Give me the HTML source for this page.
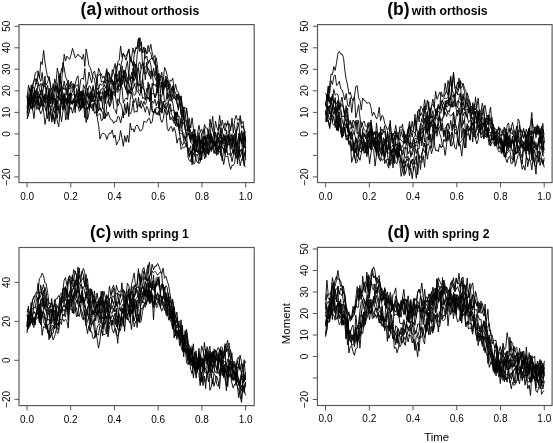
<!DOCTYPE html><html><head><meta charset="utf-8"><style>
html,body{margin:0;padding:0;background:#fff;}
svg{display:block;filter:blur(0.3px);}
text{font-family:"Liberation Sans", sans-serif;}
.tl{font-size:10px;fill:#000;}
.tt{font-size:12.2px;font-weight:bold;fill:#000;}
.tp{font-size:17.5px;font-weight:bold;fill:#000;}
.al{font-size:11.4px;fill:#000;}
</style></head><body><svg width="553" height="443" viewBox="0 0 553 443">
<rect width="553" height="443" fill="#fff"/>
<defs><clipPath id="clipa"><rect x="19.0" y="24.6" width="235.2" height="158.0"/></clipPath><clipPath id="clipb"><rect x="317.5" y="24.6" width="234.6" height="158.0"/></clipPath><clipPath id="clipc"><rect x="19.0" y="247.5" width="235.2" height="158.1"/></clipPath><clipPath id="clipd"><rect x="317.4" y="247.4" width="234.7" height="158.1"/></clipPath></defs>
<g clip-path="url(#clipa)" fill="none" stroke="#000" stroke-width="0.9" stroke-linejoin="round"><path d="M27.1,109.3 28.5,105.3 29.8,93.6 31.2,94.0 32.6,101.0 34.0,101.9 35.3,98.0 36.7,97.1 38.1,91.4 39.5,98.1 40.8,90.1 42.2,89.5 43.6,97.6 45.0,96.0 46.3,99.4 47.7,95.4 49.1,114.8 50.5,110.1 51.8,104.7 53.2,102.7 54.6,98.7 56.0,101.6 57.3,110.3 58.7,97.4 60.1,88.0 61.5,96.1 62.8,98.1 64.2,105.8 65.6,98.1 67.0,100.8 68.3,94.0 69.7,95.7 71.1,95.2 72.5,91.7 73.8,83.7 75.2,101.4 76.6,101.9 78.0,95.3 79.3,94.8 80.7,91.2 82.1,98.4 83.5,100.8 84.8,103.0 86.2,101.0 87.6,102.9 89.0,106.5 90.3,103.0 91.7,92.4 93.1,98.6 94.5,97.4 95.8,96.9 97.2,97.7 98.6,111.2 100.0,107.7 101.3,111.2 102.7,106.5 104.1,91.3 105.5,103.5 106.8,91.1 108.2,95.1 109.6,87.7 111.0,98.7 112.3,80.4 113.7,81.5 115.1,93.0 116.5,74.2 117.8,81.6 119.2,74.7 120.6,86.5 122.0,65.7 123.3,72.3 124.7,78.0 126.1,67.1 127.5,61.3 128.8,76.5 130.2,57.1 131.6,62.7 133.0,64.2 134.3,74.1 135.7,77.1 137.1,54.8 138.5,47.0 139.8,37.6 141.2,43.4 142.6,65.7 144.0,63.6 145.3,48.0 146.7,53.9 148.1,51.6 149.5,49.6 150.8,44.3 152.2,52.6 153.6,57.8 155.0,55.4 156.3,75.1 157.7,89.1 159.1,81.0 160.5,76.7 161.8,72.2 163.2,87.8 164.6,81.6 166.0,87.1 167.3,80.5 168.7,89.7 170.1,80.1 171.5,80.8 172.8,78.2 174.2,91.4 175.6,84.1 177.0,91.4 178.3,92.1 179.7,97.2 181.1,99.9 182.5,109.3 183.8,117.8 185.2,116.2 186.6,124.2 188.0,132.6 189.3,125.4 190.7,142.3 192.1,143.6 193.5,150.3 194.8,129.1 196.2,147.0 197.6,145.1 199.0,132.4 200.3,145.4 201.7,141.7 203.1,140.2 204.5,146.1 205.8,136.2 207.2,135.2 208.6,135.8 210.0,138.9 211.3,123.4 212.7,131.4 214.1,134.1 215.5,131.9 216.8,137.7 218.2,131.3 219.6,124.5 221.0,139.0 222.3,142.4 223.7,141.7 225.1,155.6 226.5,140.0 227.8,143.2 229.2,138.0 230.6,154.2 232.0,161.6 233.3,155.9 234.7,150.5 236.1,141.1 237.5,164.1 238.8,146.5 240.2,157.3 241.6,151.7 243.0,154.2 244.3,166.0 245.7,151.6"/><path d="M27.1,107.1 28.5,97.4 29.8,100.8 31.2,109.0 32.6,102.1 34.0,107.7 35.3,102.2 36.7,99.1 38.1,107.7 39.5,110.2 40.8,99.2 42.2,102.3 43.6,99.9 45.0,94.5 46.3,111.4 47.7,99.3 49.1,96.6 50.5,103.5 51.8,97.4 53.2,109.9 54.6,105.5 56.0,114.5 57.3,100.2 58.7,108.6 60.1,110.5 61.5,98.8 62.8,103.5 64.2,103.2 65.6,107.3 67.0,116.6 68.3,109.5 69.7,102.0 71.1,102.0 72.5,103.3 73.8,99.1 75.2,112.9 76.6,88.5 78.0,93.2 79.3,105.0 80.7,109.2 82.1,107.5 83.5,91.9 84.8,99.6 86.2,96.6 87.6,88.2 89.0,101.8 90.3,107.2 91.7,92.2 93.1,85.4 94.5,93.2 95.8,101.2 97.2,113.4 98.6,90.9 100.0,101.0 101.3,95.9 102.7,107.1 104.1,110.2 105.5,91.5 106.8,96.4 108.2,97.7 109.6,106.4 111.0,97.2 112.3,92.1 113.7,108.4 115.1,109.8 116.5,113.8 117.8,98.8 119.2,101.8 120.6,103.4 122.0,107.4 123.3,118.1 124.7,103.6 126.1,112.9 127.5,102.0 128.8,112.4 130.2,114.0 131.6,111.6 133.0,101.0 134.3,112.4 135.7,111.3 137.1,112.0 138.5,97.4 139.8,107.0 141.2,100.8 142.6,105.5 144.0,101.3 145.3,104.7 146.7,100.7 148.1,82.2 149.5,101.6 150.8,92.7 152.2,93.8 153.6,93.1 155.0,97.1 156.3,92.5 157.7,81.9 159.1,95.8 160.5,96.4 161.8,96.2 163.2,88.8 164.6,102.2 166.0,100.6 167.3,92.8 168.7,105.3 170.1,108.4 171.5,114.3 172.8,116.8 174.2,123.7 175.6,116.3 177.0,112.3 178.3,119.9 179.7,128.7 181.1,131.0 182.5,131.9 183.8,133.4 185.2,141.6 186.6,133.0 188.0,157.1 189.3,160.7 190.7,161.6 192.1,151.7 193.5,163.9 194.8,163.2 196.2,154.8 197.6,154.3 199.0,163.8 200.3,161.9 201.7,154.6 203.1,141.2 204.5,154.7 205.8,149.5 207.2,152.9 208.6,153.6 210.0,150.4 211.3,147.9 212.7,145.4 214.1,150.0 215.5,153.5 216.8,148.3 218.2,152.3 219.6,144.6 221.0,153.1 222.3,155.9 223.7,164.6 225.1,156.0 226.5,156.6 227.8,156.0 229.2,163.8 230.6,169.3 232.0,165.4 233.3,165.5 234.7,163.0 236.1,148.8 237.5,152.8 238.8,155.8 240.2,165.7 241.6,159.4 243.0,156.8 244.3,165.9 245.7,167.3"/><path d="M27.1,107.8 28.5,104.7 29.8,106.3 31.2,101.6 32.6,85.7 34.0,88.7 35.3,95.5 36.7,93.4 38.1,83.2 39.5,85.9 40.8,83.4 42.2,95.4 43.6,86.9 45.0,85.8 46.3,90.4 47.7,85.3 49.1,101.8 50.5,89.4 51.8,90.1 53.2,83.7 54.6,91.8 56.0,85.8 57.3,92.5 58.7,91.1 60.1,78.8 61.5,84.4 62.8,89.2 64.2,80.9 65.6,89.9 67.0,95.3 68.3,80.2 69.7,86.7 71.1,81.3 72.5,85.1 73.8,84.2 75.2,87.5 76.6,85.0 78.0,85.0 79.3,96.7 80.7,93.1 82.1,98.2 83.5,84.7 84.8,88.4 86.2,95.9 87.6,92.1 89.0,86.0 90.3,86.3 91.7,93.0 93.1,87.1 94.5,94.0 95.8,87.7 97.2,74.4 98.6,75.5 100.0,74.4 101.3,73.9 102.7,78.2 104.1,76.0 105.5,79.9 106.8,81.3 108.2,82.2 109.6,80.9 111.0,82.1 112.3,79.5 113.7,86.3 115.1,75.1 116.5,73.5 117.8,76.3 119.2,70.7 120.6,81.1 122.0,74.5 123.3,77.7 124.7,86.9 126.1,89.8 127.5,81.4 128.8,82.8 130.2,90.0 131.6,85.6 133.0,75.7 134.3,85.5 135.7,83.5 137.1,83.6 138.5,86.2 139.8,83.8 141.2,93.0 142.6,77.7 144.0,62.7 145.3,79.7 146.7,62.2 148.1,72.2 149.5,76.3 150.8,70.9 152.2,72.2 153.6,85.7 155.0,84.2 156.3,87.1 157.7,73.8 159.1,85.1 160.5,82.7 161.8,84.4 163.2,94.4 164.6,86.3 166.0,78.4 167.3,98.6 168.7,96.0 170.1,100.7 171.5,101.2 172.8,86.6 174.2,96.8 175.6,99.6 177.0,94.0 178.3,97.8 179.7,103.5 181.1,114.6 182.5,112.7 183.8,120.6 185.2,121.3 186.6,120.3 188.0,130.5 189.3,130.8 190.7,139.3 192.1,132.2 193.5,144.5 194.8,140.6 196.2,140.4 197.6,140.1 199.0,141.5 200.3,154.1 201.7,139.7 203.1,146.9 204.5,159.0 205.8,153.7 207.2,152.0 208.6,155.0 210.0,147.3 211.3,147.9 212.7,147.5 214.1,153.5 215.5,148.7 216.8,141.3 218.2,136.9 219.6,145.3 221.0,155.8 222.3,142.0 223.7,138.3 225.1,141.3 226.5,152.4 227.8,143.7 229.2,144.7 230.6,144.6 232.0,147.8 233.3,143.2 234.7,133.4 236.1,143.7 237.5,160.0 238.8,156.2 240.2,150.4 241.6,148.8 243.0,154.4 244.3,136.1 245.7,151.9"/><path d="M27.1,113.4 28.5,108.8 29.8,97.8 31.2,104.4 32.6,97.5 34.0,103.3 35.3,90.2 36.7,109.5 38.1,107.1 39.5,110.1 40.8,113.9 42.2,110.4 43.6,104.5 45.0,107.5 46.3,111.4 47.7,118.7 49.1,103.8 50.5,109.2 51.8,119.3 53.2,109.5 54.6,113.3 56.0,99.1 57.3,118.2 58.7,107.9 60.1,114.3 61.5,101.7 62.8,109.8 64.2,99.2 65.6,120.1 67.0,116.6 68.3,119.9 69.7,97.6 71.1,104.3 72.5,101.2 73.8,102.9 75.2,100.9 76.6,106.1 78.0,105.9 79.3,111.4 80.7,108.9 82.1,90.5 83.5,104.1 84.8,117.8 86.2,105.4 87.6,119.5 89.0,112.8 90.3,104.3 91.7,104.6 93.1,108.9 94.5,100.2 95.8,107.7 97.2,116.0 98.6,114.6 100.0,113.5 101.3,120.6 102.7,119.8 104.1,109.9 105.5,118.4 106.8,104.2 108.2,100.3 109.6,106.9 111.0,103.4 112.3,94.8 113.7,91.8 115.1,93.6 116.5,103.5 117.8,106.0 119.2,102.9 120.6,86.0 122.0,87.1 123.3,103.2 124.7,99.5 126.1,97.9 127.5,99.6 128.8,89.6 130.2,94.0 131.6,89.7 133.0,88.9 134.3,84.8 135.7,87.2 137.1,91.8 138.5,91.7 139.8,95.5 141.2,89.6 142.6,98.6 144.0,97.6 145.3,99.3 146.7,97.0 148.1,98.1 149.5,98.6 150.8,87.7 152.2,108.8 153.6,114.0 155.0,108.5 156.3,114.5 157.7,112.5 159.1,115.6 160.5,107.7 161.8,113.3 163.2,107.8 164.6,109.2 166.0,113.3 167.3,115.0 168.7,108.7 170.1,120.0 171.5,118.3 172.8,116.6 174.2,118.8 175.6,112.4 177.0,121.9 178.3,125.7 179.7,133.0 181.1,133.5 182.5,134.0 183.8,137.9 185.2,136.4 186.6,143.6 188.0,151.0 189.3,150.1 190.7,153.2 192.1,152.0 193.5,148.2 194.8,152.6 196.2,150.9 197.6,150.5 199.0,152.9 200.3,160.4 201.7,155.0 203.1,144.5 204.5,152.8 205.8,147.8 207.2,140.0 208.6,153.3 210.0,144.6 211.3,151.6 212.7,138.4 214.1,146.4 215.5,144.2 216.8,153.4 218.2,154.1 219.6,151.1 221.0,154.5 222.3,161.0 223.7,148.2 225.1,153.4 226.5,148.3 227.8,155.0 229.2,153.3 230.6,156.3 232.0,153.0 233.3,151.0 234.7,150.4 236.1,158.2 237.5,153.1 238.8,152.1 240.2,151.6 241.6,149.1 243.0,160.9 244.3,152.5 245.7,159.8"/><path d="M27.1,119.0 28.5,114.6 29.8,108.7 31.2,84.8 32.6,98.7 34.0,91.1 35.3,85.7 36.7,78.4 38.1,82.5 39.5,89.4 40.8,95.0 42.2,83.3 43.6,87.2 45.0,76.0 46.3,93.5 47.7,97.7 49.1,88.0 50.5,101.9 51.8,103.6 53.2,101.7 54.6,78.9 56.0,83.6 57.3,83.8 58.7,95.1 60.1,73.1 61.5,93.5 62.8,87.7 64.2,89.7 65.6,86.8 67.0,83.3 68.3,85.0 69.7,108.9 71.1,87.3 72.5,86.2 73.8,90.8 75.2,101.6 76.6,102.8 78.0,95.8 79.3,108.3 80.7,91.1 82.1,96.8 83.5,107.6 84.8,103.2 86.2,105.1 87.6,93.2 89.0,93.1 90.3,100.6 91.7,91.7 93.1,101.9 94.5,99.6 95.8,97.9 97.2,88.1 98.6,90.0 100.0,93.1 101.3,89.0 102.7,88.9 104.1,84.4 105.5,88.3 106.8,82.7 108.2,72.1 109.6,77.2 111.0,81.8 112.3,69.6 113.7,73.2 115.1,76.8 116.5,66.7 117.8,64.6 119.2,63.7 120.6,66.6 122.0,60.7 123.3,53.1 124.7,56.7 126.1,60.4 127.5,53.8 128.8,48.9 130.2,57.1 131.6,59.8 133.0,65.9 134.3,54.6 135.7,47.5 137.1,49.0 138.5,38.4 139.8,51.7 141.2,47.4 142.6,51.7 144.0,47.0 145.3,58.5 146.7,56.0 148.1,63.3 149.5,59.9 150.8,59.3 152.2,57.4 153.6,61.7 155.0,64.8 156.3,57.8 157.7,68.1 159.1,83.4 160.5,78.7 161.8,83.9 163.2,81.6 164.6,67.4 166.0,70.8 167.3,76.4 168.7,82.9 170.1,98.3 171.5,90.5 172.8,87.4 174.2,94.6 175.6,97.1 177.0,97.5 178.3,96.3 179.7,101.0 181.1,95.8 182.5,113.4 183.8,114.6 185.2,128.9 186.6,133.4 188.0,132.9 189.3,136.9 190.7,141.1 192.1,134.9 193.5,143.6 194.8,133.6 196.2,146.7 197.6,132.4 199.0,125.3 200.3,132.5 201.7,129.2 203.1,133.8 204.5,124.5 205.8,128.1 207.2,128.0 208.6,136.5 210.0,119.2 211.3,127.4 212.7,116.3 214.1,134.2 215.5,121.1 216.8,127.1 218.2,130.6 219.6,115.5 221.0,126.3 222.3,120.0 223.7,127.5 225.1,122.8 226.5,125.9 227.8,120.7 229.2,132.7 230.6,127.3 232.0,123.6 233.3,125.2 234.7,126.5 236.1,134.6 237.5,122.6 238.8,124.2 240.2,115.4 241.6,123.9 243.0,121.3 244.3,131.6 245.7,133.3"/><path d="M27.1,115.8 28.5,99.6 29.8,97.0 31.2,89.1 32.6,109.4 34.0,96.8 35.3,94.2 36.7,100.9 38.1,102.7 39.5,108.3 40.8,105.6 42.2,103.0 43.6,110.9 45.0,124.4 46.3,117.4 47.7,101.6 49.1,121.4 50.5,111.4 51.8,122.2 53.2,114.5 54.6,124.0 56.0,114.2 57.3,121.0 58.7,126.8 60.1,111.8 61.5,121.7 62.8,112.2 64.2,104.9 65.6,110.5 67.0,97.4 68.3,116.4 69.7,109.8 71.1,107.4 72.5,113.3 73.8,107.5 75.2,101.1 76.6,105.9 78.0,101.0 79.3,102.4 80.7,110.3 82.1,96.4 83.5,101.9 84.8,109.5 86.2,122.6 87.6,107.3 89.0,106.5 90.3,106.1 91.7,108.3 93.1,111.0 94.5,102.8 95.8,103.5 97.2,107.8 98.6,92.5 100.0,96.1 101.3,100.1 102.7,97.5 104.1,94.4 105.5,100.2 106.8,85.1 108.2,95.0 109.6,99.5 111.0,90.2 112.3,92.2 113.7,91.8 115.1,93.8 116.5,74.3 117.8,92.5 119.2,83.6 120.6,67.0 122.0,84.9 123.3,80.1 124.7,70.0 126.1,82.0 127.5,93.0 128.8,78.7 130.2,76.9 131.6,89.2 133.0,68.1 134.3,80.6 135.7,77.0 137.1,81.5 138.5,86.1 139.8,76.3 141.2,92.9 142.6,77.6 144.0,89.0 145.3,100.4 146.7,88.4 148.1,88.9 149.5,84.2 150.8,100.9 152.2,83.2 153.6,92.4 155.0,98.1 156.3,95.0 157.7,86.1 159.1,109.2 160.5,97.8 161.8,112.5 163.2,102.4 164.6,107.9 166.0,106.8 167.3,112.4 168.7,110.9 170.1,118.0 171.5,118.0 172.8,120.8 174.2,119.8 175.6,111.9 177.0,126.8 178.3,123.5 179.7,135.0 181.1,141.9 182.5,145.3 183.8,142.2 185.2,143.6 186.6,142.8 188.0,148.6 189.3,155.7 190.7,151.2 192.1,162.1 193.5,152.6 194.8,156.4 196.2,141.6 197.6,152.7 199.0,150.3 200.3,150.7 201.7,146.3 203.1,142.4 204.5,150.8 205.8,145.0 207.2,134.7 208.6,139.3 210.0,135.6 211.3,134.6 212.7,141.0 214.1,141.6 215.5,150.0 216.8,148.1 218.2,137.2 219.6,145.8 221.0,148.3 222.3,137.2 223.7,139.8 225.1,135.3 226.5,147.7 227.8,142.4 229.2,138.3 230.6,148.6 232.0,148.6 233.3,153.6 234.7,154.4 236.1,152.0 237.5,149.8 238.8,156.5 240.2,138.8 241.6,140.1 243.0,158.9 244.3,155.8 245.7,147.5"/><path d="M27.1,97.8 28.5,85.2 29.8,91.4 31.2,93.8 32.6,84.7 34.0,80.8 35.3,78.7 36.7,84.2 38.1,72.1 39.5,78.2 40.8,81.4 42.2,72.5 43.6,87.2 45.0,81.7 46.3,84.9 47.7,82.2 49.1,77.0 50.5,84.7 51.8,99.4 53.2,86.3 54.6,90.7 56.0,83.3 57.3,68.1 58.7,73.9 60.1,82.0 61.5,85.9 62.8,62.6 64.2,67.9 65.6,76.9 67.0,79.9 68.3,85.9 69.7,89.1 71.1,84.4 72.5,86.7 73.8,89.7 75.2,84.1 76.6,78.4 78.0,75.8 79.3,91.0 80.7,79.6 82.1,78.0 83.5,79.5 84.8,68.5 86.2,86.9 87.6,83.0 89.0,72.1 90.3,77.7 91.7,83.0 93.1,73.2 94.5,71.0 95.8,77.8 97.2,80.6 98.6,68.3 100.0,71.9 101.3,82.4 102.7,80.9 104.1,83.4 105.5,75.0 106.8,68.6 108.2,79.2 109.6,85.6 111.0,80.7 112.3,75.3 113.7,69.8 115.1,63.5 116.5,74.1 117.8,62.1 119.2,59.9 120.6,46.0 122.0,57.1 123.3,53.2 124.7,56.2 126.1,56.0 127.5,53.4 128.8,49.4 130.2,61.8 131.6,57.7 133.0,47.9 134.3,53.7 135.7,49.4 137.1,46.9 138.5,38.6 139.8,46.5 141.2,41.8 142.6,53.1 144.0,51.0 145.3,51.2 146.7,53.5 148.1,45.4 149.5,51.6 150.8,53.0 152.2,59.3 153.6,58.6 155.0,64.2 156.3,64.7 157.7,92.9 159.1,75.5 160.5,93.4 161.8,83.1 163.2,84.7 164.6,87.2 166.0,78.9 167.3,79.7 168.7,86.3 170.1,88.2 171.5,98.8 172.8,99.5 174.2,96.8 175.6,98.9 177.0,103.8 178.3,108.2 179.7,99.8 181.1,113.5 182.5,123.8 183.8,106.7 185.2,116.5 186.6,107.9 188.0,126.9 189.3,129.6 190.7,138.2 192.1,138.4 193.5,134.1 194.8,151.4 196.2,152.0 197.6,143.9 199.0,139.0 200.3,147.5 201.7,160.0 203.1,143.6 204.5,137.3 205.8,141.0 207.2,139.8 208.6,129.7 210.0,139.2 211.3,138.3 212.7,143.3 214.1,142.8 215.5,143.1 216.8,139.3 218.2,132.4 219.6,136.9 221.0,133.0 222.3,129.6 223.7,126.7 225.1,131.1 226.5,124.2 227.8,124.5 229.2,123.4 230.6,130.7 232.0,118.1 233.3,133.3 234.7,120.1 236.1,115.4 237.5,120.3 238.8,119.3 240.2,118.6 241.6,128.3 243.0,126.0 244.3,130.4 245.7,141.3"/><path d="M27.1,118.6 28.5,114.0 29.8,109.0 31.2,106.1 32.6,107.0 34.0,94.1 35.3,104.8 36.7,103.0 38.1,100.3 39.5,104.1 40.8,106.8 42.2,100.6 43.6,99.4 45.0,102.8 46.3,87.8 47.7,104.8 49.1,101.7 50.5,107.8 51.8,110.3 53.2,114.6 54.6,123.1 56.0,103.5 57.3,107.2 58.7,110.4 60.1,104.0 61.5,96.6 62.8,103.3 64.2,108.2 65.6,100.8 67.0,104.4 68.3,96.6 69.7,93.0 71.1,101.6 72.5,104.5 73.8,98.6 75.2,98.5 76.6,93.2 78.0,102.5 79.3,104.6 80.7,107.3 82.1,97.5 83.5,103.5 84.8,98.7 86.2,85.0 87.6,93.1 89.0,98.6 90.3,96.5 91.7,94.2 93.1,100.6 94.5,94.1 95.8,93.6 97.2,80.5 98.6,89.5 100.0,83.8 101.3,85.2 102.7,84.7 104.1,80.8 105.5,83.4 106.8,70.8 108.2,94.4 109.6,73.5 111.0,83.4 112.3,82.8 113.7,88.8 115.1,75.2 116.5,79.0 117.8,82.1 119.2,78.6 120.6,86.2 122.0,73.2 123.3,70.6 124.7,84.5 126.1,89.3 127.5,95.1 128.8,89.8 130.2,93.2 131.6,86.3 133.0,93.1 134.3,95.5 135.7,94.2 137.1,80.5 138.5,90.7 139.8,90.6 141.2,90.9 142.6,86.7 144.0,89.8 145.3,94.4 146.7,95.8 148.1,99.3 149.5,96.7 150.8,104.8 152.2,101.1 153.6,103.3 155.0,99.3 156.3,105.9 157.7,101.3 159.1,107.2 160.5,93.9 161.8,104.0 163.2,106.9 164.6,105.8 166.0,109.6 167.3,104.2 168.7,109.5 170.1,103.7 171.5,111.5 172.8,109.8 174.2,111.1 175.6,126.1 177.0,119.5 178.3,119.6 179.7,127.5 181.1,118.2 182.5,133.2 183.8,141.5 185.2,143.5 186.6,147.1 188.0,147.6 189.3,149.7 190.7,145.8 192.1,164.8 193.5,140.6 194.8,152.3 196.2,160.0 197.6,162.7 199.0,160.6 200.3,156.6 201.7,151.2 203.1,152.9 204.5,146.9 205.8,157.4 207.2,148.3 208.6,146.6 210.0,145.6 211.3,137.8 212.7,149.4 214.1,144.5 215.5,141.3 216.8,155.4 218.2,145.6 219.6,149.5 221.0,140.2 222.3,147.1 223.7,150.2 225.1,143.9 226.5,136.0 227.8,135.8 229.2,140.4 230.6,138.5 232.0,147.4 233.3,135.4 234.7,145.6 236.1,133.8 237.5,128.8 238.8,123.9 240.2,138.5 241.6,131.2 243.0,147.2 244.3,133.2 245.7,142.5"/><path d="M27.1,95.3 28.5,100.4 29.8,101.8 31.2,97.5 32.6,87.6 34.0,80.7 35.3,72.9 36.7,71.9 38.1,70.8 39.5,78.1 40.8,61.7 42.2,64.5 43.6,50.4 45.0,62.6 46.3,70.6 47.7,77.7 49.1,76.4 50.5,87.5 51.8,89.3 53.2,94.5 54.6,99.6 56.0,97.8 57.3,88.9 58.7,97.8 60.1,88.5 61.5,85.4 62.8,100.6 64.2,93.0 65.6,101.8 67.0,102.6 68.3,99.9 69.7,98.6 71.1,101.6 72.5,101.7 73.8,99.9 75.2,98.7 76.6,92.7 78.0,93.5 79.3,99.4 80.7,99.2 82.1,104.9 83.5,90.4 84.8,98.4 86.2,99.5 87.6,100.9 89.0,109.6 90.3,94.3 91.7,94.5 93.1,94.0 94.5,94.9 95.8,99.3 97.2,92.2 98.6,95.5 100.0,99.3 101.3,101.4 102.7,91.0 104.1,88.3 105.5,97.4 106.8,87.5 108.2,96.4 109.6,85.3 111.0,94.5 112.3,95.4 113.7,94.1 115.1,96.3 116.5,88.6 117.8,85.5 119.2,90.3 120.6,89.2 122.0,84.3 123.3,75.5 124.7,76.7 126.1,81.9 127.5,77.5 128.8,76.6 130.2,80.7 131.6,72.3 133.0,79.5 134.3,75.3 135.7,63.9 137.1,80.5 138.5,67.6 139.8,77.8 141.2,67.4 142.6,62.7 144.0,74.2 145.3,72.3 146.7,73.3 148.1,67.8 149.5,71.1 150.8,79.2 152.2,71.3 153.6,75.2 155.0,77.6 156.3,80.7 157.7,79.6 159.1,86.8 160.5,87.1 161.8,82.0 163.2,90.0 164.6,81.7 166.0,87.8 167.3,88.0 168.7,96.3 170.1,94.3 171.5,98.9 172.8,94.6 174.2,98.2 175.6,98.9 177.0,101.3 178.3,110.3 179.7,99.5 181.1,96.4 182.5,107.3 183.8,116.4 185.2,127.0 186.6,130.9 188.0,128.7 189.3,118.4 190.7,128.0 192.1,117.8 193.5,129.0 194.8,133.5 196.2,137.3 197.6,135.8 199.0,135.8 200.3,142.0 201.7,139.8 203.1,137.3 204.5,136.1 205.8,138.4 207.2,146.5 208.6,144.4 210.0,139.3 211.3,139.6 212.7,138.3 214.1,145.7 215.5,143.6 216.8,139.6 218.2,140.9 219.6,135.7 221.0,127.3 222.3,130.1 223.7,141.0 225.1,139.1 226.5,142.8 227.8,145.7 229.2,136.0 230.6,142.0 232.0,138.6 233.3,140.4 234.7,150.8 236.1,133.8 237.5,144.9 238.8,144.2 240.2,135.3 241.6,139.2 243.0,141.6 244.3,147.9 245.7,142.7"/><path d="M27.1,96.6 28.5,105.8 29.8,99.9 31.2,95.8 32.6,104.2 34.0,95.1 35.3,91.0 36.7,92.7 38.1,97.8 39.5,94.0 40.8,101.2 42.2,97.8 43.6,96.1 45.0,102.3 46.3,100.7 47.7,105.5 49.1,92.0 50.5,100.0 51.8,100.1 53.2,97.7 54.6,97.1 56.0,84.9 57.3,91.9 58.7,75.1 60.1,78.0 61.5,68.4 62.8,72.3 64.2,54.3 65.6,60.8 67.0,56.1 68.3,58.0 69.7,59.4 71.1,54.4 72.5,48.4 73.8,52.4 75.2,58.0 76.6,56.4 78.0,54.1 79.3,56.1 80.7,56.6 82.1,59.3 83.5,54.1 84.8,66.3 86.2,48.9 87.6,57.1 89.0,65.6 90.3,67.5 91.7,73.3 93.1,77.7 94.5,78.5 95.8,89.4 97.2,93.5 98.6,91.4 100.0,94.3 101.3,92.8 102.7,94.1 104.1,92.2 105.5,91.0 106.8,96.2 108.2,90.0 109.6,96.3 111.0,92.5 112.3,99.3 113.7,82.3 115.1,84.5 116.5,80.0 117.8,82.6 119.2,86.7 120.6,83.0 122.0,77.8 123.3,76.0 124.7,72.3 126.1,72.5 127.5,83.3 128.8,74.5 130.2,76.6 131.6,78.5 133.0,72.0 134.3,61.7 135.7,77.3 137.1,72.0 138.5,64.1 139.8,61.9 141.2,68.6 142.6,67.9 144.0,68.2 145.3,66.9 146.7,65.3 148.1,63.7 149.5,59.9 150.8,64.7 152.2,75.1 153.6,68.1 155.0,76.2 156.3,65.8 157.7,77.1 159.1,73.5 160.5,77.9 161.8,76.1 163.2,84.3 164.6,81.2 166.0,76.0 167.3,86.9 168.7,85.7 170.1,84.0 171.5,89.9 172.8,85.6 174.2,93.1 175.6,92.1 177.0,100.6 178.3,94.1 179.7,98.6 181.1,109.2 182.5,117.1 183.8,107.8 185.2,107.6 186.6,109.5 188.0,118.6 189.3,126.9 190.7,132.2 192.1,132.8 193.5,130.2 194.8,140.4 196.2,138.5 197.6,136.5 199.0,137.1 200.3,143.9 201.7,140.6 203.1,140.5 204.5,144.9 205.8,137.5 207.2,138.3 208.6,137.6 210.0,143.4 211.3,133.5 212.7,140.3 214.1,132.0 215.5,148.0 216.8,140.2 218.2,137.2 219.6,138.3 221.0,136.9 222.3,141.2 223.7,142.6 225.1,143.7 226.5,130.2 227.8,140.1 229.2,130.9 230.6,136.5 232.0,141.2 233.3,137.7 234.7,140.4 236.1,140.7 237.5,143.8 238.8,136.3 240.2,140.9 241.6,130.5 243.0,136.5 244.3,131.9 245.7,131.5"/><path d="M27.1,111.9 28.5,100.8 29.8,104.3 31.2,105.9 32.6,108.8 34.0,118.6 35.3,104.6 36.7,98.4 38.1,95.6 39.5,106.0 40.8,106.6 42.2,93.6 43.6,106.3 45.0,93.9 46.3,99.4 47.7,99.8 49.1,92.2 50.5,104.0 51.8,101.4 53.2,95.2 54.6,102.3 56.0,106.8 57.3,97.2 58.7,96.0 60.1,101.0 61.5,92.5 62.8,104.3 64.2,94.5 65.6,100.8 67.0,103.2 68.3,102.4 69.7,101.0 71.1,93.1 72.5,103.5 73.8,99.2 75.2,109.2 76.6,100.0 78.0,99.8 79.3,90.8 80.7,100.3 82.1,108.3 83.5,102.0 84.8,109.1 86.2,108.2 87.6,107.7 89.0,105.1 90.3,105.7 91.7,107.8 93.1,103.4 94.5,113.5 95.8,111.6 97.2,116.9 98.6,125.3 100.0,139.0 101.3,135.0 102.7,133.3 104.1,133.5 105.5,134.7 106.8,139.6 108.2,135.4 109.6,133.1 111.0,133.4 112.3,129.9 113.7,138.0 115.1,134.9 116.5,145.1 117.8,141.9 119.2,140.0 120.6,130.5 122.0,138.3 123.3,146.3 124.7,135.7 126.1,142.1 127.5,135.2 128.8,142.4 130.2,123.1 131.6,130.2 133.0,128.7 134.3,132.2 135.7,126.2 137.1,125.0 138.5,127.1 139.8,130.8 141.2,130.7 142.6,128.5 144.0,120.9 145.3,122.2 146.7,121.9 148.1,119.0 149.5,118.2 150.8,123.5 152.2,121.8 153.6,112.0 155.0,111.1 156.3,113.0 157.7,114.7 159.1,110.1 160.5,111.2 161.8,112.7 163.2,101.0 164.6,107.3 166.0,102.7 167.3,103.6 168.7,101.2 170.1,99.5 171.5,98.8 172.8,103.4 174.2,111.5 175.6,121.0 177.0,111.6 178.3,116.5 179.7,116.5 181.1,128.6 182.5,125.0 183.8,122.1 185.2,129.9 186.6,137.3 188.0,133.5 189.3,134.1 190.7,142.2 192.1,133.5 193.5,134.0 194.8,143.5 196.2,140.6 197.6,138.7 199.0,137.5 200.3,144.8 201.7,132.9 203.1,143.6 204.5,128.4 205.8,144.4 207.2,151.9 208.6,140.3 210.0,136.7 211.3,141.4 212.7,144.5 214.1,142.4 215.5,133.4 216.8,145.3 218.2,151.9 219.6,139.9 221.0,129.7 222.3,144.1 223.7,134.0 225.1,138.4 226.5,139.5 227.8,135.7 229.2,134.3 230.6,144.6 232.0,142.4 233.3,135.0 234.7,140.6 236.1,141.3 237.5,148.2 238.8,133.0 240.2,137.8 241.6,143.5 243.0,135.0 244.3,131.5 245.7,141.2"/><path d="M27.1,100.8 28.5,95.6 29.8,87.9 31.2,98.6 32.6,103.3 34.0,99.0 35.3,97.9 36.7,88.6 38.1,105.5 39.5,94.6 40.8,99.0 42.2,105.5 43.6,97.6 45.0,95.3 46.3,97.5 47.7,96.4 49.1,101.5 50.5,95.6 51.8,92.7 53.2,102.4 54.6,104.9 56.0,99.2 57.3,95.6 58.7,99.8 60.1,97.1 61.5,92.7 62.8,92.1 64.2,100.8 65.6,95.3 67.0,87.4 68.3,103.3 69.7,93.5 71.1,94.0 72.5,95.2 73.8,94.1 75.2,96.7 76.6,94.0 78.0,93.6 79.3,101.8 80.7,92.6 82.1,102.5 83.5,98.3 84.8,106.0 86.2,95.6 87.6,94.8 89.0,98.4 90.3,91.5 91.7,102.3 93.1,98.9 94.5,92.0 95.8,100.6 97.2,101.2 98.6,100.1 100.0,108.4 101.3,110.0 102.7,112.7 104.1,119.0 105.5,113.5 106.8,116.2 108.2,111.9 109.6,117.2 111.0,119.8 112.3,120.1 113.7,123.4 115.1,121.2 116.5,121.5 117.8,116.4 119.2,117.0 120.6,122.9 122.0,116.7 123.3,111.8 124.7,114.9 126.1,113.4 127.5,104.8 128.8,116.6 130.2,100.3 131.6,91.9 133.0,99.1 134.3,102.6 135.7,98.2 137.1,107.7 138.5,104.8 139.8,104.8 141.2,108.4 142.6,104.7 144.0,107.2 145.3,112.3 146.7,106.2 148.1,109.1 149.5,115.2 150.8,103.8 152.2,111.9 153.6,111.6 155.0,113.0 156.3,107.5 157.7,107.4 159.1,107.0 160.5,118.9 161.8,122.4 163.2,119.2 164.6,109.6 166.0,112.7 167.3,128.8 168.7,131.0 170.1,127.3 171.5,126.5 172.8,131.6 174.2,127.4 175.6,132.0 177.0,143.2 178.3,138.6 179.7,138.4 181.1,149.3 182.5,147.0 183.8,148.0 185.2,146.2 186.6,145.5 188.0,149.5 189.3,157.2 190.7,150.9 192.1,151.1 193.5,144.1 194.8,150.4 196.2,151.9 197.6,138.1 199.0,155.0 200.3,145.2 201.7,148.8 203.1,141.8 204.5,136.1 205.8,143.8 207.2,147.2 208.6,150.8 210.0,139.0 211.3,136.6 212.7,141.7 214.1,142.5 215.5,146.4 216.8,143.0 218.2,141.0 219.6,143.9 221.0,140.1 222.3,142.4 223.7,143.3 225.1,137.2 226.5,142.0 227.8,137.6 229.2,138.4 230.6,140.3 232.0,133.8 233.3,153.1 234.7,145.4 236.1,147.3 237.5,149.8 238.8,145.0 240.2,137.3 241.6,140.2 243.0,133.9 244.3,144.3 245.7,147.8"/></g>
<rect x="19.0" y="24.6" width="235.2" height="158.0" fill="none" stroke="#555" stroke-width="1.15"/>
<path d="M27.1,182.6V187.4M70.8,182.6V187.4M114.5,182.6V187.4M158.3,182.6V187.4M202.0,182.6V187.4M245.7,182.6V187.4M19.0,26.3H14.4M19.0,47.8H14.4M19.0,69.3H14.4M19.0,90.8H14.4M19.0,112.4H14.4M19.0,133.9H14.4M19.0,155.4H14.4M19.0,176.9H14.4" stroke="#555" stroke-width="1" fill="none"/>
<text x="27.1" y="199.5" text-anchor="middle" class="tl">0.0</text>
<text x="70.8" y="199.5" text-anchor="middle" class="tl">0.2</text>
<text x="114.5" y="199.5" text-anchor="middle" class="tl">0.4</text>
<text x="158.3" y="199.5" text-anchor="middle" class="tl">0.6</text>
<text x="202.0" y="199.5" text-anchor="middle" class="tl">0.8</text>
<text x="245.7" y="199.5" text-anchor="middle" class="tl">1.0</text>
<text transform="translate(9.6,26.3) rotate(-90)" text-anchor="middle" class="tl">50</text>
<text transform="translate(9.6,47.8) rotate(-90)" text-anchor="middle" class="tl">40</text>
<text transform="translate(9.6,69.3) rotate(-90)" text-anchor="middle" class="tl">30</text>
<text transform="translate(9.6,90.8) rotate(-90)" text-anchor="middle" class="tl">20</text>
<text transform="translate(9.6,112.4) rotate(-90)" text-anchor="middle" class="tl">10</text>
<text transform="translate(9.6,133.9) rotate(-90)" text-anchor="middle" class="tl">0</text>
<text transform="translate(9.6,176.9) rotate(-90)" text-anchor="middle" class="tl">&#8722;20</text>
<g clip-path="url(#clipb)" fill="none" stroke="#000" stroke-width="0.9" stroke-linejoin="round"><path d="M325.6,122.2 327.0,117.2 328.3,118.2 329.7,119.8 331.1,110.9 332.5,121.8 333.8,116.4 335.2,127.6 336.6,116.6 338.0,130.9 339.3,126.0 340.7,118.1 342.1,135.9 343.5,126.2 344.8,131.3 346.2,136.2 347.6,139.8 349.0,130.8 350.3,135.8 351.7,132.6 353.1,142.5 354.5,153.8 355.8,138.4 357.2,143.3 358.6,135.0 360.0,134.6 361.3,138.9 362.7,140.3 364.1,143.2 365.5,153.1 366.8,137.1 368.2,131.1 369.6,140.7 371.0,132.4 372.3,131.4 373.7,146.8 375.1,140.6 376.5,151.2 377.8,135.9 379.2,132.6 380.6,143.2 382.0,150.5 383.3,144.5 384.7,158.7 386.1,142.5 387.5,153.9 388.8,153.1 390.2,151.6 391.6,160.9 393.0,154.6 394.3,163.7 395.7,149.4 397.1,147.7 398.5,155.7 399.8,144.2 401.2,148.5 402.6,166.0 404.0,159.7 405.3,166.2 406.7,165.1 408.1,166.4 409.5,167.8 410.8,163.0 412.2,162.7 413.6,170.4 415.0,160.7 416.3,155.9 417.7,174.6 419.1,160.3 420.5,161.3 421.8,162.9 423.2,155.6 424.6,167.3 426.0,145.0 427.3,159.2 428.7,151.4 430.1,145.5 431.5,153.7 432.8,148.8 434.2,142.5 435.6,150.8 437.0,149.9 438.3,151.7 439.7,144.2 441.1,147.9 442.5,145.5 443.8,146.5 445.2,155.4 446.6,144.4 448.0,129.1 449.3,137.7 450.7,135.3 452.1,131.8 453.5,124.3 454.8,133.0 456.2,134.0 457.6,133.1 459.0,146.3 460.3,113.2 461.7,127.6 463.1,122.5 464.5,119.7 465.8,135.6 467.2,125.8 468.6,132.3 470.0,139.3 471.3,126.8 472.7,130.2 474.1,119.5 475.5,123.1 476.8,120.8 478.2,125.4 479.6,129.4 481.0,131.3 482.3,124.1 483.7,125.7 485.1,127.4 486.5,130.2 487.8,128.7 489.2,131.1 490.6,125.6 492.0,129.9 493.3,132.2 494.7,134.6 496.1,135.9 497.5,133.7 498.8,144.6 500.2,138.8 501.6,154.0 503.0,140.4 504.3,139.9 505.7,132.7 507.1,145.9 508.5,136.6 509.8,140.6 511.2,146.2 512.6,138.5 514.0,142.3 515.3,154.5 516.7,142.1 518.1,131.4 519.5,139.8 520.8,145.7 522.2,146.1 523.6,146.2 525.0,142.0 526.3,154.3 527.7,142.1 529.1,154.8 530.5,136.2 531.8,158.6 533.2,155.8 534.6,149.6 536.0,157.3 537.3,155.5 538.7,151.0 540.1,165.5 541.5,159.2 542.8,160.3 544.2,167.5"/><path d="M325.6,111.5 327.0,115.3 328.3,117.4 329.7,105.2 331.1,107.3 332.5,117.1 333.8,115.3 335.2,106.5 336.6,118.8 338.0,131.1 339.3,111.9 340.7,123.7 342.1,132.5 343.5,136.1 344.8,127.0 346.2,136.8 347.6,135.0 349.0,141.6 350.3,141.4 351.7,162.4 353.1,157.0 354.5,151.4 355.8,148.2 357.2,156.9 358.6,149.9 360.0,147.8 361.3,148.1 362.7,151.2 364.1,146.9 365.5,142.7 366.8,156.8 368.2,150.0 369.6,163.7 371.0,152.7 372.3,147.4 373.7,142.1 375.1,149.7 376.5,152.0 377.8,148.1 379.2,158.6 380.6,161.3 382.0,150.3 383.3,143.8 384.7,159.8 386.1,160.6 387.5,164.8 388.8,168.2 390.2,145.8 391.6,153.4 393.0,148.1 394.3,158.7 395.7,151.3 397.1,150.3 398.5,158.5 399.8,163.0 401.2,176.3 402.6,168.7 404.0,175.5 405.3,161.1 406.7,161.6 408.1,158.5 409.5,158.3 410.8,163.0 412.2,159.4 413.6,159.6 415.0,163.1 416.3,164.4 417.7,148.8 419.1,158.0 420.5,157.8 421.8,154.1 423.2,147.2 424.6,143.0 426.0,155.4 427.3,144.0 428.7,145.1 430.1,133.9 431.5,142.7 432.8,126.7 434.2,135.3 435.6,131.3 437.0,132.3 438.3,118.3 439.7,118.3 441.1,127.8 442.5,127.9 443.8,137.0 445.2,127.8 446.6,126.8 448.0,123.0 449.3,129.3 450.7,120.3 452.1,130.5 453.5,112.4 454.8,122.9 456.2,125.7 457.6,133.8 459.0,122.7 460.3,115.4 461.7,138.4 463.1,127.8 464.5,137.7 465.8,134.8 467.2,123.6 468.6,131.4 470.0,127.5 471.3,127.2 472.7,133.9 474.1,136.9 475.5,135.4 476.8,124.5 478.2,125.8 479.6,124.1 481.0,134.8 482.3,131.8 483.7,137.7 485.1,135.8 486.5,137.7 487.8,130.1 489.2,138.1 490.6,142.9 492.0,138.2 493.3,138.9 494.7,131.3 496.1,144.4 497.5,148.7 498.8,151.6 500.2,151.9 501.6,151.7 503.0,142.2 504.3,148.8 505.7,141.8 507.1,135.9 508.5,137.9 509.8,146.4 511.2,141.4 512.6,136.1 514.0,150.0 515.3,137.6 516.7,139.3 518.1,148.2 519.5,148.0 520.8,153.4 522.2,157.9 523.6,143.8 525.0,150.8 526.3,140.0 527.7,132.6 529.1,146.8 530.5,137.4 531.8,160.3 533.2,146.4 534.6,164.1 536.0,156.3 537.3,155.4 538.7,162.3 540.1,146.2 541.5,146.4 542.8,150.9 544.2,152.5"/><path d="M325.6,102.6 327.0,108.3 328.3,106.9 329.7,114.0 331.1,98.9 332.5,110.3 333.8,103.5 335.2,97.5 336.6,112.4 338.0,100.1 339.3,104.4 340.7,108.7 342.1,116.5 343.5,116.7 344.8,114.1 346.2,110.6 347.6,114.1 349.0,133.0 350.3,127.9 351.7,127.3 353.1,120.0 354.5,123.0 355.8,120.5 357.2,133.9 358.6,132.0 360.0,132.9 361.3,138.7 362.7,134.0 364.1,134.5 365.5,136.2 366.8,129.9 368.2,126.9 369.6,125.0 371.0,122.7 372.3,133.1 373.7,132.5 375.1,134.7 376.5,131.4 377.8,153.3 379.2,152.2 380.6,126.8 382.0,147.4 383.3,137.7 384.7,145.0 386.1,149.1 387.5,131.1 388.8,147.5 390.2,150.5 391.6,132.6 393.0,144.1 394.3,135.0 395.7,145.5 397.1,143.9 398.5,150.0 399.8,141.8 401.2,150.0 402.6,155.1 404.0,147.2 405.3,148.9 406.7,141.3 408.1,134.9 409.5,146.0 410.8,157.3 412.2,150.8 413.6,146.1 415.0,146.8 416.3,145.4 417.7,146.6 419.1,130.6 420.5,140.7 421.8,140.7 423.2,142.9 424.6,146.3 426.0,138.9 427.3,136.5 428.7,138.5 430.1,128.3 431.5,123.3 432.8,119.7 434.2,138.4 435.6,109.0 437.0,115.3 438.3,104.4 439.7,109.2 441.1,104.2 442.5,100.5 443.8,104.3 445.2,105.1 446.6,100.4 448.0,104.5 449.3,89.5 450.7,76.4 452.1,96.5 453.5,95.5 454.8,98.6 456.2,86.9 457.6,90.6 459.0,78.0 460.3,88.9 461.7,87.3 463.1,83.4 464.5,88.3 465.8,90.6 467.2,97.9 468.6,106.6 470.0,111.7 471.3,109.4 472.7,107.7 474.1,110.9 475.5,115.5 476.8,109.8 478.2,120.8 479.6,113.1 481.0,122.1 482.3,128.8 483.7,123.3 485.1,125.9 486.5,118.2 487.8,124.6 489.2,118.5 490.6,124.5 492.0,122.6 493.3,130.7 494.7,129.6 496.1,144.5 497.5,130.1 498.8,128.2 500.2,140.6 501.6,134.1 503.0,134.8 504.3,134.4 505.7,140.6 507.1,125.4 508.5,122.9 509.8,132.2 511.2,127.7 512.6,122.3 514.0,131.0 515.3,135.1 516.7,133.3 518.1,130.4 519.5,131.7 520.8,129.2 522.2,133.1 523.6,137.6 525.0,131.9 526.3,136.9 527.7,132.0 529.1,129.2 530.5,124.6 531.8,112.4 533.2,133.8 534.6,133.3 536.0,126.4 537.3,134.6 538.7,130.7 540.1,143.2 541.5,126.0 542.8,139.5 544.2,150.6"/><path d="M325.6,105.1 327.0,94.6 328.3,98.4 329.7,97.2 331.1,100.5 332.5,94.1 333.8,103.2 335.2,101.5 336.6,103.8 338.0,101.2 339.3,108.8 340.7,112.3 342.1,120.0 343.5,125.6 344.8,114.9 346.2,122.3 347.6,132.1 349.0,132.6 350.3,138.9 351.7,130.9 353.1,141.7 354.5,144.4 355.8,137.3 357.2,141.5 358.6,146.9 360.0,151.6 361.3,151.8 362.7,144.1 364.1,153.4 365.5,148.5 366.8,153.1 368.2,136.0 369.6,133.1 371.0,149.2 372.3,139.4 373.7,143.0 375.1,149.1 376.5,144.2 377.8,140.7 379.2,150.4 380.6,148.3 382.0,145.6 383.3,156.1 384.7,156.8 386.1,151.5 387.5,152.4 388.8,139.2 390.2,149.3 391.6,156.5 393.0,148.6 394.3,148.8 395.7,148.9 397.1,158.5 398.5,149.2 399.8,150.8 401.2,149.4 402.6,150.7 404.0,153.8 405.3,157.8 406.7,157.8 408.1,141.8 409.5,146.2 410.8,146.5 412.2,148.1 413.6,137.3 415.0,136.5 416.3,123.5 417.7,135.0 419.1,136.5 420.5,125.8 421.8,118.4 423.2,123.0 424.6,105.9 426.0,125.8 427.3,111.6 428.7,130.8 430.1,125.5 431.5,123.0 432.8,126.3 434.2,119.0 435.6,117.5 437.0,118.2 438.3,120.7 439.7,113.2 441.1,112.7 442.5,104.5 443.8,114.8 445.2,100.7 446.6,107.0 448.0,106.5 449.3,97.5 450.7,106.9 452.1,105.9 453.5,101.2 454.8,106.4 456.2,105.6 457.6,107.8 459.0,97.8 460.3,93.5 461.7,107.0 463.1,102.1 464.5,109.4 465.8,109.9 467.2,108.8 468.6,113.0 470.0,106.6 471.3,119.1 472.7,102.6 474.1,120.4 475.5,111.1 476.8,124.2 478.2,110.8 479.6,123.7 481.0,123.3 482.3,123.8 483.7,124.1 485.1,117.7 486.5,131.2 487.8,137.1 489.2,119.7 490.6,118.3 492.0,120.4 493.3,132.9 494.7,146.0 496.1,145.2 497.5,138.9 498.8,140.3 500.2,139.9 501.6,139.8 503.0,151.2 504.3,149.4 505.7,157.3 507.1,145.8 508.5,142.5 509.8,145.7 511.2,146.4 512.6,151.4 514.0,161.7 515.3,148.4 516.7,153.9 518.1,147.4 519.5,150.8 520.8,144.3 522.2,147.3 523.6,142.5 525.0,144.3 526.3,134.9 527.7,141.8 529.1,131.8 530.5,130.9 531.8,132.2 533.2,134.0 534.6,130.1 536.0,133.6 537.3,124.6 538.7,132.0 540.1,128.2 541.5,137.9 542.8,135.2 544.2,138.6"/><path d="M325.6,114.1 327.0,115.0 328.3,93.7 329.7,101.8 331.1,97.3 332.5,107.9 333.8,101.7 335.2,101.0 336.6,113.3 338.0,104.8 339.3,109.2 340.7,103.6 342.1,104.4 343.5,107.3 344.8,114.5 346.2,105.6 347.6,121.1 349.0,121.1 350.3,121.6 351.7,128.7 353.1,131.0 354.5,134.0 355.8,122.1 357.2,125.0 358.6,120.4 360.0,135.1 361.3,122.3 362.7,125.4 364.1,129.6 365.5,130.7 366.8,132.5 368.2,123.7 369.6,133.0 371.0,119.9 372.3,130.3 373.7,135.2 375.1,131.3 376.5,145.2 377.8,133.5 379.2,137.1 380.6,131.3 382.0,134.9 383.3,131.7 384.7,125.7 386.1,138.5 387.5,141.5 388.8,139.8 390.2,120.4 391.6,139.1 393.0,133.1 394.3,134.1 395.7,125.3 397.1,133.7 398.5,139.8 399.8,126.7 401.2,127.8 402.6,124.0 404.0,143.1 405.3,135.0 406.7,138.7 408.1,130.4 409.5,121.4 410.8,130.5 412.2,137.2 413.6,127.6 415.0,120.1 416.3,125.8 417.7,112.6 419.1,109.0 420.5,116.0 421.8,112.7 423.2,118.8 424.6,108.5 426.0,113.1 427.3,124.0 428.7,101.6 430.1,119.1 431.5,106.9 432.8,99.1 434.2,105.3 435.6,113.7 437.0,114.0 438.3,106.1 439.7,108.0 441.1,91.8 442.5,96.0 443.8,97.4 445.2,94.0 446.6,90.9 448.0,95.2 449.3,84.0 450.7,85.2 452.1,86.4 453.5,72.0 454.8,86.7 456.2,87.8 457.6,82.0 459.0,87.8 460.3,83.4 461.7,82.7 463.1,86.6 464.5,91.5 465.8,106.1 467.2,93.0 468.6,97.6 470.0,106.2 471.3,116.3 472.7,112.0 474.1,103.7 475.5,110.0 476.8,107.4 478.2,98.2 479.6,115.3 481.0,112.1 482.3,103.2 483.7,109.2 485.1,105.2 486.5,114.8 487.8,120.3 489.2,113.6 490.6,107.0 492.0,127.3 493.3,124.0 494.7,140.2 496.1,137.1 497.5,138.0 498.8,140.5 500.2,142.7 501.6,137.9 503.0,146.7 504.3,150.8 505.7,128.6 507.1,133.9 508.5,145.5 509.8,136.2 511.2,127.7 512.6,131.7 514.0,137.7 515.3,134.2 516.7,125.9 518.1,142.0 519.5,125.3 520.8,131.9 522.2,131.1 523.6,131.0 525.0,132.6 526.3,141.8 527.7,134.5 529.1,127.9 530.5,145.1 531.8,130.4 533.2,134.1 534.6,127.1 536.0,137.8 537.3,126.8 538.7,134.2 540.1,130.3 541.5,146.5 542.8,123.3 544.2,143.0"/><path d="M325.6,120.7 327.0,121.4 328.3,120.3 329.7,128.6 331.1,116.2 332.5,106.2 333.8,110.0 335.2,108.8 336.6,130.3 338.0,108.9 339.3,124.1 340.7,127.7 342.1,129.8 343.5,125.7 344.8,123.1 346.2,128.0 347.6,123.5 349.0,144.3 350.3,141.4 351.7,147.3 353.1,150.7 354.5,143.1 355.8,153.0 357.2,144.3 358.6,155.6 360.0,139.2 361.3,144.5 362.7,128.7 364.1,148.5 365.5,142.1 366.8,150.5 368.2,139.7 369.6,147.9 371.0,148.5 372.3,148.0 373.7,150.2 375.1,166.1 376.5,154.6 377.8,148.2 379.2,156.3 380.6,151.7 382.0,155.1 383.3,149.0 384.7,163.6 386.1,159.8 387.5,159.6 388.8,158.6 390.2,165.3 391.6,149.6 393.0,167.9 394.3,149.4 395.7,153.8 397.1,155.2 398.5,143.3 399.8,157.0 401.2,157.9 402.6,167.6 404.0,166.1 405.3,166.2 406.7,158.7 408.1,156.2 409.5,170.0 410.8,163.5 412.2,159.6 413.6,164.3 415.0,147.3 416.3,153.6 417.7,147.7 419.1,148.7 420.5,136.3 421.8,139.9 423.2,134.5 424.6,118.4 426.0,129.9 427.3,134.5 428.7,128.4 430.1,108.1 431.5,118.0 432.8,116.4 434.2,127.1 435.6,127.5 437.0,128.5 438.3,124.2 439.7,127.7 441.1,131.2 442.5,123.3 443.8,135.7 445.2,130.1 446.6,141.2 448.0,131.2 449.3,131.4 450.7,145.9 452.1,145.6 453.5,140.3 454.8,147.9 456.2,149.2 457.6,139.2 459.0,144.7 460.3,144.3 461.7,156.1 463.1,142.7 464.5,129.4 465.8,148.0 467.2,128.0 468.6,125.9 470.0,130.7 471.3,122.4 472.7,142.1 474.1,125.6 475.5,138.4 476.8,143.9 478.2,139.9 479.6,121.7 481.0,137.9 482.3,135.8 483.7,137.1 485.1,127.0 486.5,126.2 487.8,135.7 489.2,145.3 490.6,141.0 492.0,129.1 493.3,138.1 494.7,137.7 496.1,142.0 497.5,142.3 498.8,145.2 500.2,149.0 501.6,152.0 503.0,150.5 504.3,157.1 505.7,152.9 507.1,153.4 508.5,151.1 509.8,149.8 511.2,157.8 512.6,159.7 514.0,150.1 515.3,152.1 516.7,153.2 518.1,150.7 519.5,151.9 520.8,158.6 522.2,164.3 523.6,146.8 525.0,150.7 526.3,155.8 527.7,160.0 529.1,161.1 530.5,149.0 531.8,142.0 533.2,158.6 534.6,165.2 536.0,167.0 537.3,161.6 538.7,158.9 540.1,151.8 541.5,158.1 542.8,163.1 544.2,160.2"/><path d="M325.6,119.5 327.0,111.4 328.3,106.3 329.7,107.2 331.1,102.6 332.5,96.0 333.8,107.3 335.2,110.0 336.6,112.5 338.0,105.8 339.3,109.9 340.7,102.6 342.1,97.1 343.5,109.2 344.8,117.0 346.2,112.6 347.6,108.0 349.0,132.6 350.3,131.9 351.7,139.4 353.1,133.5 354.5,134.0 355.8,138.8 357.2,145.5 358.6,140.4 360.0,139.3 361.3,137.9 362.7,139.1 364.1,134.0 365.5,137.5 366.8,134.2 368.2,136.7 369.6,137.1 371.0,132.2 372.3,144.2 373.7,145.2 375.1,137.8 376.5,156.1 377.8,134.6 379.2,148.2 380.6,131.2 382.0,145.3 383.3,145.8 384.7,138.8 386.1,142.4 387.5,132.5 388.8,142.7 390.2,141.4 391.6,133.5 393.0,138.9 394.3,150.2 395.7,131.1 397.1,138.3 398.5,139.7 399.8,139.4 401.2,131.1 402.6,137.2 404.0,130.7 405.3,137.4 406.7,137.2 408.1,132.4 409.5,125.4 410.8,131.2 412.2,121.2 413.6,130.2 415.0,114.2 416.3,130.6 417.7,111.3 419.1,122.0 420.5,106.2 421.8,107.4 423.2,112.3 424.6,99.6 426.0,110.0 427.3,100.2 428.7,108.8 430.1,111.1 431.5,105.6 432.8,104.1 434.2,107.4 435.6,91.3 437.0,99.3 438.3,96.0 439.7,92.4 441.1,95.7 442.5,96.5 443.8,95.4 445.2,83.0 446.6,92.9 448.0,80.5 449.3,86.2 450.7,76.6 452.1,90.1 453.5,73.7 454.8,88.5 456.2,91.6 457.6,93.7 459.0,87.4 460.3,80.6 461.7,103.9 463.1,93.7 464.5,108.3 465.8,108.2 467.2,106.0 468.6,99.5 470.0,101.7 471.3,110.9 472.7,109.8 474.1,114.6 475.5,96.8 476.8,109.1 478.2,118.2 479.6,109.8 481.0,112.1 482.3,115.4 483.7,108.1 485.1,130.5 486.5,121.2 487.8,122.0 489.2,115.0 490.6,121.7 492.0,117.5 493.3,140.5 494.7,135.2 496.1,131.8 497.5,131.9 498.8,134.3 500.2,128.4 501.6,132.8 503.0,132.8 504.3,127.0 505.7,140.6 507.1,142.8 508.5,128.8 509.8,130.9 511.2,132.5 512.6,134.5 514.0,130.7 515.3,130.9 516.7,138.9 518.1,119.0 519.5,121.7 520.8,138.1 522.2,136.1 523.6,128.3 525.0,135.9 526.3,129.0 527.7,135.1 529.1,129.1 530.5,134.9 531.8,118.5 533.2,126.6 534.6,129.1 536.0,134.0 537.3,132.1 538.7,126.0 540.1,137.3 541.5,133.1 542.8,129.3 544.2,134.5"/><path d="M325.6,119.9 327.0,118.8 328.3,120.1 329.7,127.7 331.1,116.2 332.5,109.0 333.8,114.0 335.2,107.4 336.6,116.2 338.0,128.4 339.3,115.7 340.7,132.6 342.1,137.9 343.5,129.6 344.8,120.5 346.2,118.8 347.6,128.0 349.0,135.9 350.3,132.3 351.7,151.3 353.1,141.4 354.5,155.1 355.8,163.1 357.2,162.2 358.6,156.4 360.0,160.3 361.3,153.2 362.7,141.4 364.1,139.5 365.5,149.7 366.8,152.7 368.2,152.4 369.6,142.5 371.0,150.2 372.3,141.2 373.7,143.7 375.1,146.8 376.5,154.2 377.8,154.7 379.2,158.7 380.6,158.1 382.0,160.3 383.3,159.6 384.7,158.0 386.1,144.2 387.5,154.3 388.8,165.4 390.2,159.8 391.6,163.3 393.0,162.9 394.3,157.6 395.7,162.7 397.1,163.6 398.5,151.1 399.8,155.8 401.2,165.9 402.6,170.9 404.0,165.4 405.3,174.1 406.7,168.2 408.1,163.2 409.5,175.7 410.8,167.8 412.2,178.7 413.6,166.7 415.0,166.5 416.3,178.3 417.7,163.5 419.1,154.9 420.5,169.7 421.8,155.0 423.2,148.8 424.6,152.4 426.0,148.4 427.3,138.7 428.7,136.7 430.1,134.1 431.5,148.1 432.8,134.3 434.2,143.5 435.6,123.7 437.0,136.3 438.3,127.2 439.7,133.7 441.1,137.6 442.5,147.0 443.8,139.3 445.2,141.7 446.6,125.0 448.0,140.6 449.3,134.8 450.7,146.1 452.1,132.1 453.5,140.5 454.8,128.8 456.2,130.5 457.6,140.0 459.0,144.1 460.3,142.6 461.7,140.3 463.1,138.5 464.5,148.1 465.8,130.4 467.2,134.9 468.6,134.0 470.0,140.3 471.3,126.5 472.7,122.4 474.1,131.7 475.5,139.0 476.8,136.7 478.2,132.2 479.6,130.3 481.0,127.4 482.3,116.7 483.7,120.3 485.1,137.0 486.5,135.0 487.8,127.7 489.2,138.4 490.6,146.0 492.0,142.1 493.3,142.4 494.7,146.1 496.1,141.1 497.5,142.1 498.8,148.8 500.2,147.0 501.6,150.0 503.0,151.4 504.3,155.4 505.7,158.4 507.1,162.6 508.5,157.3 509.8,156.4 511.2,163.7 512.6,163.3 514.0,153.0 515.3,166.4 516.7,160.3 518.1,155.1 519.5,153.4 520.8,160.7 522.2,169.3 523.6,165.5 525.0,170.2 526.3,155.2 527.7,166.6 529.1,158.8 530.5,160.5 531.8,169.9 533.2,157.2 534.6,163.1 536.0,174.3 537.3,152.9 538.7,160.5 540.1,157.8 541.5,160.7 542.8,164.4 544.2,157.9"/><path d="M325.6,110.1 327.0,121.8 328.3,106.1 329.7,112.7 331.1,113.8 332.5,123.3 333.8,125.3 335.2,123.7 336.6,116.1 338.0,129.5 339.3,125.1 340.7,128.2 342.1,136.9 343.5,131.0 344.8,127.9 346.2,140.2 347.6,138.0 349.0,144.6 350.3,145.6 351.7,148.5 353.1,146.7 354.5,156.9 355.8,161.0 357.2,145.1 358.6,149.9 360.0,149.3 361.3,140.0 362.7,149.4 364.1,144.9 365.5,143.2 366.8,149.8 368.2,132.9 369.6,139.3 371.0,126.6 372.3,141.8 373.7,137.1 375.1,142.8 376.5,122.9 377.8,135.1 379.2,134.1 380.6,138.1 382.0,141.0 383.3,141.9 384.7,142.8 386.1,138.6 387.5,151.3 388.8,147.1 390.2,147.1 391.6,147.6 393.0,144.7 394.3,151.3 395.7,141.3 397.1,157.1 398.5,157.3 399.8,154.3 401.2,161.0 402.6,164.3 404.0,159.1 405.3,147.6 406.7,147.9 408.1,154.1 409.5,150.5 410.8,154.0 412.2,154.9 413.6,149.5 415.0,138.3 416.3,138.4 417.7,137.4 419.1,134.9 420.5,133.8 421.8,127.7 423.2,124.4 424.6,119.6 426.0,117.7 427.3,118.4 428.7,118.3 430.1,121.0 431.5,122.2 432.8,121.5 434.2,117.7 435.6,119.5 437.0,108.0 438.3,120.1 439.7,115.3 441.1,129.0 442.5,119.1 443.8,116.3 445.2,105.0 446.6,110.9 448.0,113.1 449.3,114.5 450.7,116.0 452.1,114.9 453.5,112.4 454.8,128.0 456.2,115.9 457.6,110.0 459.0,112.8 460.3,116.1 461.7,112.4 463.1,124.2 464.5,120.0 465.8,110.3 467.2,118.0 468.6,108.6 470.0,112.4 471.3,112.2 472.7,113.4 474.1,112.6 475.5,115.6 476.8,119.8 478.2,120.8 479.6,118.1 481.0,122.4 482.3,108.9 483.7,109.4 485.1,126.1 486.5,117.2 487.8,115.0 489.2,124.4 490.6,126.1 492.0,129.4 493.3,125.4 494.7,129.0 496.1,129.0 497.5,141.2 498.8,142.3 500.2,138.2 501.6,146.1 503.0,141.0 504.3,150.3 505.7,157.2 507.1,146.3 508.5,149.3 509.8,144.9 511.2,149.6 512.6,151.3 514.0,150.0 515.3,151.1 516.7,142.8 518.1,153.4 519.5,149.0 520.8,144.7 522.2,132.0 523.6,138.5 525.0,133.2 526.3,150.8 527.7,141.6 529.1,151.5 530.5,152.6 531.8,147.4 533.2,132.4 534.6,148.1 536.0,149.3 537.3,149.5 538.7,140.4 540.1,148.6 541.5,147.9 542.8,155.7 544.2,156.2"/><path d="M325.6,106.4 327.0,97.0 328.3,101.5 329.7,84.7 331.1,73.9 332.5,74.8 333.8,66.5 335.2,70.5 336.6,62.2 338.0,53.4 339.3,51.4 340.7,54.0 342.1,54.1 343.5,57.4 344.8,70.2 346.2,79.5 347.6,85.0 349.0,94.4 350.3,92.1 351.7,98.1 353.1,100.7 354.5,96.7 355.8,117.8 357.2,112.1 358.6,104.7 360.0,117.6 361.3,127.5 362.7,122.9 364.1,121.0 365.5,125.9 366.8,127.2 368.2,122.3 369.6,122.9 371.0,134.7 372.3,129.1 373.7,136.7 375.1,139.9 376.5,138.0 377.8,134.8 379.2,136.0 380.6,131.1 382.0,129.0 383.3,133.0 384.7,131.1 386.1,141.5 387.5,136.4 388.8,140.7 390.2,133.2 391.6,134.0 393.0,142.9 394.3,138.8 395.7,134.9 397.1,132.3 398.5,134.3 399.8,129.8 401.2,130.1 402.6,128.9 404.0,132.7 405.3,143.4 406.7,134.6 408.1,128.8 409.5,137.3 410.8,129.8 412.2,131.2 413.6,131.5 415.0,133.3 416.3,136.5 417.7,135.1 419.1,131.3 420.5,123.8 421.8,124.8 423.2,132.5 424.6,126.7 426.0,126.9 427.3,132.9 428.7,115.6 430.1,124.3 431.5,121.5 432.8,115.5 434.2,115.8 435.6,116.1 437.0,112.8 438.3,111.2 439.7,113.3 441.1,100.6 442.5,105.4 443.8,110.3 445.2,109.7 446.6,101.9 448.0,99.8 449.3,105.7 450.7,96.4 452.1,107.4 453.5,95.0 454.8,94.5 456.2,105.6 457.6,101.0 459.0,101.9 460.3,102.6 461.7,112.2 463.1,108.1 464.5,110.6 465.8,104.2 467.2,103.6 468.6,107.7 470.0,114.7 471.3,124.2 472.7,117.0 474.1,124.6 475.5,114.5 476.8,117.9 478.2,129.0 479.6,132.8 481.0,125.9 482.3,127.0 483.7,132.6 485.1,131.0 486.5,126.4 487.8,129.8 489.2,136.7 490.6,134.8 492.0,136.7 493.3,140.4 494.7,134.2 496.1,138.4 497.5,134.3 498.8,137.2 500.2,140.1 501.6,138.9 503.0,151.4 504.3,141.0 505.7,139.1 507.1,142.0 508.5,147.9 509.8,143.5 511.2,143.3 512.6,140.5 514.0,146.1 515.3,132.6 516.7,145.1 518.1,145.5 519.5,149.3 520.8,143.7 522.2,146.7 523.6,141.4 525.0,140.6 526.3,137.8 527.7,148.5 529.1,142.4 530.5,148.9 531.8,137.2 533.2,144.0 534.6,141.2 536.0,149.3 537.3,148.0 538.7,142.2 540.1,141.4 541.5,140.0 542.8,155.2 544.2,139.8"/><path d="M325.6,115.4 327.0,102.7 328.3,86.6 329.7,93.3 331.1,80.7 332.5,84.5 333.8,76.3 335.2,74.9 336.6,85.5 338.0,84.1 339.3,81.3 340.7,88.8 342.1,89.9 343.5,94.3 344.8,100.1 346.2,93.6 347.6,105.0 349.0,106.7 350.3,97.7 351.7,112.5 353.1,100.6 354.5,95.9 355.8,86.4 357.2,85.7 358.6,97.9 360.0,100.2 361.3,109.9 362.7,98.0 364.1,100.3 365.5,100.8 366.8,103.3 368.2,102.7 369.6,102.9 371.0,107.4 372.3,115.8 373.7,112.2 375.1,115.2 376.5,119.0 377.8,116.5 379.2,107.3 380.6,120.7 382.0,115.4 383.3,116.5 384.7,123.5 386.1,126.5 387.5,130.3 388.8,127.4 390.2,123.6 391.6,136.6 393.0,133.5 394.3,136.0 395.7,140.2 397.1,135.1 398.5,139.6 399.8,139.1 401.2,140.2 402.6,141.7 404.0,143.6 405.3,134.5 406.7,144.8 408.1,132.1 409.5,126.5 410.8,148.6 412.2,143.4 413.6,138.7 415.0,146.9 416.3,142.5 417.7,141.3 419.1,143.5 420.5,128.7 421.8,146.0 423.2,132.0 424.6,141.8 426.0,125.7 427.3,128.4 428.7,140.2 430.1,122.2 431.5,126.4 432.8,127.9 434.2,121.9 435.6,129.0 437.0,126.3 438.3,124.7 439.7,117.2 441.1,120.8 442.5,117.9 443.8,115.8 445.2,111.9 446.6,116.6 448.0,110.4 449.3,112.2 450.7,104.8 452.1,104.2 453.5,107.0 454.8,99.2 456.2,109.1 457.6,116.1 459.0,107.7 460.3,115.4 461.7,102.9 463.1,115.8 464.5,111.9 465.8,115.2 467.2,116.1 468.6,122.6 470.0,120.2 471.3,120.4 472.7,125.3 474.1,123.0 475.5,132.5 476.8,130.3 478.2,124.8 479.6,128.0 481.0,123.4 482.3,126.6 483.7,139.1 485.1,132.7 486.5,135.2 487.8,130.1 489.2,132.8 490.6,132.2 492.0,139.7 493.3,139.4 494.7,143.1 496.1,140.4 497.5,138.2 498.8,138.3 500.2,137.5 501.6,146.0 503.0,152.7 504.3,143.3 505.7,137.3 507.1,151.2 508.5,149.4 509.8,135.3 511.2,146.9 512.6,139.5 514.0,141.6 515.3,138.9 516.7,143.1 518.1,140.6 519.5,143.4 520.8,141.1 522.2,140.1 523.6,144.9 525.0,151.3 526.3,140.5 527.7,151.0 529.1,144.1 530.5,144.4 531.8,141.9 533.2,141.9 534.6,148.0 536.0,145.5 537.3,145.6 538.7,143.2 540.1,138.7 541.5,137.8 542.8,149.5 544.2,148.0"/><path d="M325.6,93.3 327.0,97.1 328.3,86.0 329.7,103.5 331.1,100.9 332.5,100.5 333.8,89.4 335.2,95.2 336.6,93.8 338.0,95.0 339.3,103.8 340.7,106.3 342.1,105.5 343.5,107.7 344.8,116.7 346.2,115.1 347.6,119.6 349.0,124.9 350.3,120.4 351.7,124.4 353.1,128.3 354.5,123.2 355.8,121.2 357.2,120.2 358.6,138.9 360.0,134.4 361.3,138.6 362.7,133.7 364.1,132.8 365.5,138.8 366.8,136.1 368.2,151.1 369.6,137.6 371.0,144.1 372.3,133.4 373.7,143.1 375.1,143.6 376.5,144.9 377.8,139.9 379.2,143.2 380.6,152.4 382.0,146.9 383.3,152.4 384.7,141.6 386.1,144.1 387.5,145.9 388.8,146.8 390.2,143.5 391.6,139.6 393.0,140.6 394.3,151.3 395.7,154.5 397.1,148.9 398.5,134.6 399.8,150.5 401.2,145.7 402.6,147.3 404.0,140.6 405.3,141.7 406.7,144.2 408.1,138.6 409.5,144.4 410.8,142.5 412.2,144.2 413.6,143.9 415.0,142.3 416.3,142.8 417.7,136.2 419.1,143.3 420.5,134.8 421.8,132.7 423.2,130.5 424.6,129.8 426.0,129.4 427.3,120.7 428.7,129.1 430.1,117.4 431.5,117.4 432.8,110.7 434.2,118.3 435.6,116.6 437.0,111.5 438.3,105.0 439.7,109.3 441.1,104.6 442.5,100.1 443.8,98.6 445.2,98.1 446.6,98.5 448.0,97.3 449.3,86.8 450.7,99.9 452.1,89.8 453.5,92.7 454.8,96.5 456.2,91.5 457.6,94.8 459.0,94.6 460.3,93.3 461.7,103.2 463.1,95.9 464.5,98.4 465.8,103.1 467.2,102.9 468.6,109.7 470.0,108.2 471.3,106.1 472.7,109.2 474.1,111.8 475.5,112.6 476.8,123.6 478.2,123.8 479.6,113.7 481.0,116.3 482.3,123.6 483.7,123.8 485.1,131.8 486.5,124.9 487.8,124.2 489.2,123.7 490.6,123.7 492.0,123.3 493.3,131.7 494.7,132.8 496.1,131.4 497.5,131.2 498.8,126.6 500.2,135.5 501.6,136.3 503.0,129.6 504.3,142.1 505.7,146.3 507.1,132.6 508.5,139.3 509.8,139.9 511.2,142.2 512.6,142.7 514.0,142.5 515.3,134.7 516.7,144.6 518.1,149.6 519.5,144.4 520.8,137.7 522.2,148.5 523.6,142.8 525.0,142.3 526.3,146.3 527.7,146.1 529.1,128.9 530.5,142.4 531.8,136.0 533.2,145.5 534.6,147.0 536.0,142.4 537.3,153.3 538.7,137.7 540.1,143.7 541.5,136.7 542.8,143.6 544.2,142.5"/></g>
<rect x="317.5" y="24.6" width="234.6" height="158.0" fill="none" stroke="#555" stroke-width="1.15"/>
<path d="M325.6,182.6V187.4M369.3,182.6V187.4M413.0,182.6V187.4M456.8,182.6V187.4M500.5,182.6V187.4M544.2,182.6V187.4M317.5,26.3H312.9M317.5,47.8H312.9M317.5,69.3H312.9M317.5,90.8H312.9M317.5,112.4H312.9M317.5,133.9H312.9M317.5,155.4H312.9M317.5,176.9H312.9" stroke="#555" stroke-width="1" fill="none"/>
<text x="325.6" y="199.5" text-anchor="middle" class="tl">0.0</text>
<text x="369.3" y="199.5" text-anchor="middle" class="tl">0.2</text>
<text x="413.0" y="199.5" text-anchor="middle" class="tl">0.4</text>
<text x="456.8" y="199.5" text-anchor="middle" class="tl">0.6</text>
<text x="500.5" y="199.5" text-anchor="middle" class="tl">0.8</text>
<text x="544.2" y="199.5" text-anchor="middle" class="tl">1.0</text>
<text transform="translate(308.1,26.3) rotate(-90)" text-anchor="middle" class="tl">50</text>
<text transform="translate(308.1,47.8) rotate(-90)" text-anchor="middle" class="tl">40</text>
<text transform="translate(308.1,69.3) rotate(-90)" text-anchor="middle" class="tl">30</text>
<text transform="translate(308.1,90.8) rotate(-90)" text-anchor="middle" class="tl">20</text>
<text transform="translate(308.1,112.4) rotate(-90)" text-anchor="middle" class="tl">10</text>
<text transform="translate(308.1,133.9) rotate(-90)" text-anchor="middle" class="tl">0</text>
<text transform="translate(308.1,176.9) rotate(-90)" text-anchor="middle" class="tl">&#8722;20</text>
<g clip-path="url(#clipc)" fill="none" stroke="#000" stroke-width="0.9" stroke-linejoin="round"><path d="M27.0,327.1 28.4,306.0 29.7,324.0 31.1,313.1 32.5,321.7 33.9,317.7 35.2,325.1 36.6,310.3 38.0,309.0 39.4,304.1 40.7,306.7 42.1,316.2 43.5,309.2 44.9,306.0 46.2,298.0 47.6,320.6 49.0,319.3 50.4,323.7 51.7,309.1 53.1,311.6 54.5,328.2 55.9,327.5 57.2,324.2 58.6,322.8 60.0,313.1 61.4,307.3 62.7,293.1 64.1,287.4 65.5,292.8 66.9,298.5 68.2,284.6 69.6,279.0 71.0,291.6 72.4,281.3 73.7,269.6 75.1,272.3 76.5,274.8 77.9,291.7 79.2,284.3 80.6,280.2 82.0,288.8 83.4,286.7 84.7,291.8 86.1,297.6 87.5,297.7 88.9,302.7 90.2,299.6 91.6,292.4 93.0,302.5 94.4,298.5 95.7,310.0 97.1,303.3 98.5,299.9 99.9,313.4 101.2,312.5 102.6,311.7 104.0,318.8 105.4,303.8 106.7,295.6 108.1,312.7 109.5,298.5 110.9,297.2 112.2,299.5 113.6,304.2 115.0,300.4 116.4,305.4 117.7,301.7 119.1,303.1 120.5,294.4 121.9,294.9 123.2,297.4 124.6,302.5 126.0,296.1 127.4,296.4 128.7,294.3 130.1,301.6 131.5,299.0 132.9,312.5 134.2,299.2 135.6,301.3 137.0,308.4 138.4,303.7 139.7,288.1 141.1,278.5 142.5,288.0 143.9,288.1 145.2,296.3 146.6,284.0 148.0,279.4 149.4,293.2 150.7,301.4 152.1,281.6 153.5,290.3 154.9,290.6 156.2,298.6 157.6,293.5 159.0,295.5 160.4,296.7 161.7,296.7 163.1,296.7 164.5,287.0 165.9,296.9 167.2,308.1 168.6,295.8 170.0,313.0 171.4,308.9 172.7,312.2 174.1,322.8 175.5,324.4 176.9,325.5 178.2,322.5 179.6,339.0 181.0,335.0 182.4,333.1 183.7,352.0 185.1,343.9 186.5,342.0 187.9,355.7 189.2,358.4 190.6,360.9 192.0,360.9 193.4,378.0 194.7,366.7 196.1,378.3 197.5,363.4 198.9,353.1 200.2,366.4 201.6,362.5 203.0,363.1 204.4,362.4 205.7,349.2 207.1,355.4 208.5,357.1 209.9,358.4 211.2,353.6 212.6,361.0 214.0,351.5 215.4,350.2 216.7,356.0 218.1,368.7 219.5,357.5 220.9,371.7 222.2,367.8 223.6,373.1 225.0,364.5 226.4,367.0 227.7,358.9 229.1,361.0 230.5,368.4 231.9,366.8 233.2,362.2 234.6,376.0 236.0,385.3 237.4,379.4 238.7,383.4 240.1,383.2 241.5,374.2 242.9,390.4 244.2,385.6 245.6,382.1"/><path d="M27.0,333.1 28.4,318.2 29.7,319.6 31.1,322.6 32.5,315.1 33.9,311.5 35.2,314.0 36.6,311.8 38.0,304.4 39.4,311.8 40.7,319.5 42.1,312.3 43.5,317.5 44.9,319.1 46.2,328.6 47.6,325.4 49.0,324.2 50.4,320.7 51.7,318.0 53.1,305.4 54.5,320.8 55.9,321.2 57.2,320.6 58.6,313.7 60.0,311.8 61.4,312.2 62.7,307.4 64.1,306.0 65.5,307.3 66.9,299.4 68.2,307.4 69.6,308.4 71.0,296.2 72.4,288.6 73.7,296.7 75.1,288.3 76.5,297.8 77.9,275.3 79.2,293.0 80.6,284.3 82.0,286.2 83.4,301.0 84.7,307.1 86.1,309.4 87.5,313.5 88.9,299.5 90.2,313.6 91.6,321.3 93.0,309.8 94.4,314.9 95.7,306.6 97.1,304.1 98.5,313.6 99.9,306.2 101.2,291.1 102.6,312.0 104.0,304.9 105.4,309.9 106.7,312.1 108.1,309.7 109.5,313.0 110.9,307.5 112.2,296.1 113.6,296.1 115.0,299.5 116.4,306.3 117.7,304.8 119.1,300.6 120.5,311.3 121.9,306.4 123.2,304.0 124.6,308.3 126.0,305.0 127.4,300.7 128.7,314.0 130.1,301.3 131.5,303.0 132.9,297.0 134.2,307.0 135.6,307.3 137.0,300.9 138.4,299.7 139.7,293.6 141.1,295.8 142.5,297.2 143.9,288.8 145.2,281.1 146.6,290.9 148.0,301.6 149.4,281.7 150.7,286.2 152.1,289.5 153.5,284.3 154.9,287.8 156.2,286.5 157.6,279.4 159.0,279.8 160.4,292.7 161.7,302.6 163.1,295.9 164.5,296.6 165.9,300.3 167.2,308.2 168.6,302.2 170.0,309.5 171.4,303.9 172.7,310.7 174.1,316.9 175.5,322.8 176.9,328.3 178.2,323.7 179.6,327.1 181.0,329.6 182.4,344.5 183.7,356.8 185.1,341.5 186.5,347.0 187.9,353.1 189.2,350.3 190.6,358.6 192.0,361.6 193.4,356.9 194.7,365.3 196.1,367.2 197.5,371.6 198.9,357.1 200.2,359.9 201.6,364.6 203.0,359.2 204.4,370.8 205.7,367.9 207.1,365.4 208.5,356.8 209.9,354.0 211.2,358.0 212.6,359.5 214.0,366.3 215.4,357.7 216.7,358.6 218.1,363.4 219.5,361.7 220.9,350.8 222.2,361.7 223.6,362.6 225.0,361.1 226.4,364.9 227.7,372.2 229.1,368.0 230.5,369.2 231.9,366.9 233.2,370.2 234.6,375.4 236.0,371.0 237.4,379.7 238.7,381.0 240.1,380.9 241.5,390.6 242.9,387.8 244.2,389.2 245.6,382.3"/><path d="M27.0,326.6 28.4,327.4 29.7,322.4 31.1,318.4 32.5,324.1 33.9,324.8 35.2,319.0 36.6,315.3 38.0,312.5 39.4,308.5 40.7,324.8 42.1,313.8 43.5,321.7 44.9,325.1 46.2,328.9 47.6,329.6 49.0,334.0 50.4,326.0 51.7,333.1 53.1,339.9 54.5,336.8 55.9,331.3 57.2,323.3 58.6,324.4 60.0,321.5 61.4,324.6 62.7,314.2 64.1,315.6 65.5,308.0 66.9,302.3 68.2,311.4 69.6,300.4 71.0,300.0 72.4,313.1 73.7,299.3 75.1,292.8 76.5,292.3 77.9,304.4 79.2,306.7 80.6,295.5 82.0,302.3 83.4,297.1 84.7,303.0 86.1,310.1 87.5,315.8 88.9,314.8 90.2,299.4 91.6,313.4 93.0,308.6 94.4,301.6 95.7,302.2 97.1,292.9 98.5,301.4 99.9,305.7 101.2,302.0 102.6,299.7 104.0,291.2 105.4,297.8 106.7,297.1 108.1,297.2 109.5,304.4 110.9,309.6 112.2,305.6 113.6,311.5 115.0,305.2 116.4,302.5 117.7,307.4 119.1,321.8 120.5,321.2 121.9,313.0 123.2,308.5 124.6,331.3 126.0,313.5 127.4,314.9 128.7,320.6 130.1,323.1 131.5,309.1 132.9,314.5 134.2,304.4 135.6,313.7 137.0,320.4 138.4,318.2 139.7,323.0 141.1,308.4 142.5,308.6 143.9,304.7 145.2,307.3 146.6,301.1 148.0,296.5 149.4,301.1 150.7,301.2 152.1,295.0 153.5,319.8 154.9,296.7 156.2,307.3 157.6,306.9 159.0,297.6 160.4,306.7 161.7,311.2 163.1,307.7 164.5,304.9 165.9,314.2 167.2,315.8 168.6,308.8 170.0,316.2 171.4,321.1 172.7,310.6 174.1,338.0 175.5,329.7 176.9,339.4 178.2,329.9 179.6,337.6 181.0,342.4 182.4,325.4 183.7,343.9 185.1,352.2 186.5,347.4 187.9,356.6 189.2,348.3 190.6,363.6 192.0,365.6 193.4,364.5 194.7,365.2 196.1,365.4 197.5,368.4 198.9,364.4 200.2,361.7 201.6,365.2 203.0,372.6 204.4,363.0 205.7,353.3 207.1,361.2 208.5,351.4 209.9,346.2 211.2,364.0 212.6,360.2 214.0,363.5 215.4,355.4 216.7,360.7 218.1,361.4 219.5,354.2 220.9,349.2 222.2,355.5 223.6,356.8 225.0,345.9 226.4,351.7 227.7,349.0 229.1,361.5 230.5,362.2 231.9,352.7 233.2,372.3 234.6,372.6 236.0,366.3 237.4,373.4 238.7,364.6 240.1,370.4 241.5,368.6 242.9,364.8 244.2,378.9 245.6,379.2"/><path d="M27.0,325.0 28.4,328.7 29.7,319.3 31.1,320.3 32.5,320.7 33.9,319.6 35.2,318.9 36.6,314.8 38.0,313.2 39.4,323.0 40.7,308.6 42.1,313.3 43.5,311.2 44.9,319.1 46.2,317.6 47.6,332.9 49.0,334.3 50.4,336.4 51.7,331.0 53.1,326.7 54.5,327.7 55.9,316.4 57.2,333.4 58.6,332.7 60.0,317.0 61.4,309.2 62.7,316.0 64.1,314.9 65.5,316.9 66.9,303.6 68.2,320.3 69.6,301.6 71.0,293.3 72.4,299.1 73.7,313.6 75.1,305.9 76.5,317.0 77.9,314.6 79.2,316.6 80.6,310.0 82.0,317.3 83.4,320.1 84.7,310.3 86.1,324.7 87.5,333.5 88.9,325.5 90.2,331.5 91.6,331.3 93.0,338.4 94.4,338.2 95.7,330.6 97.1,338.6 98.5,348.2 99.9,341.0 101.2,329.5 102.6,333.8 104.0,334.7 105.4,334.0 106.7,333.3 108.1,321.2 109.5,323.9 110.9,320.3 112.2,329.5 113.6,333.1 115.0,328.3 116.4,334.9 117.7,336.0 119.1,332.7 120.5,321.4 121.9,308.6 123.2,313.8 124.6,309.6 126.0,296.5 127.4,303.6 128.7,289.6 130.1,310.2 131.5,286.1 132.9,288.5 134.2,305.9 135.6,299.3 137.0,297.5 138.4,294.4 139.7,302.7 141.1,287.7 142.5,294.8 143.9,299.8 145.2,289.8 146.6,297.4 148.0,289.9 149.4,298.9 150.7,291.5 152.1,297.0 153.5,295.6 154.9,302.7 156.2,300.1 157.6,299.3 159.0,295.4 160.4,308.4 161.7,300.2 163.1,297.0 164.5,300.4 165.9,308.0 167.2,316.2 168.6,299.4 170.0,318.1 171.4,312.7 172.7,321.0 174.1,329.1 175.5,332.8 176.9,331.5 178.2,330.8 179.6,339.1 181.0,319.8 182.4,335.0 183.7,346.9 185.1,344.7 186.5,330.8 187.9,346.5 189.2,358.6 190.6,363.1 192.0,365.1 193.4,364.2 194.7,369.3 196.1,368.5 197.5,365.6 198.9,362.8 200.2,368.3 201.6,382.3 203.0,376.6 204.4,381.3 205.7,380.9 207.1,375.0 208.5,369.2 209.9,372.5 211.2,372.4 212.6,365.1 214.0,368.5 215.4,372.2 216.7,373.1 218.1,365.4 219.5,355.8 220.9,364.7 222.2,353.1 223.6,370.1 225.0,363.9 226.4,363.4 227.7,369.0 229.1,361.9 230.5,364.9 231.9,361.0 233.2,368.0 234.6,363.4 236.0,379.4 237.4,366.9 238.7,367.4 240.1,369.6 241.5,363.2 242.9,370.6 244.2,380.9 245.6,372.4"/><path d="M27.0,326.3 28.4,323.7 29.7,318.0 31.1,318.1 32.5,324.0 33.9,327.5 35.2,317.3 36.6,315.0 38.0,306.4 39.4,319.1 40.7,301.5 42.1,297.9 43.5,308.7 44.9,309.2 46.2,309.9 47.6,313.4 49.0,314.4 50.4,311.9 51.7,310.3 53.1,315.8 54.5,320.6 55.9,312.4 57.2,314.6 58.6,308.7 60.0,300.7 61.4,307.3 62.7,288.6 64.1,289.7 65.5,288.1 66.9,289.6 68.2,278.7 69.6,275.5 71.0,284.1 72.4,274.9 73.7,289.2 75.1,280.6 76.5,285.3 77.9,267.1 79.2,276.8 80.6,276.7 82.0,272.2 83.4,268.4 84.7,272.4 86.1,290.3 87.5,284.5 88.9,303.9 90.2,288.4 91.6,308.5 93.0,300.8 94.4,307.0 95.7,320.9 97.1,309.9 98.5,322.7 99.9,321.8 101.2,312.7 102.6,327.7 104.0,317.1 105.4,324.3 106.7,315.8 108.1,331.8 109.5,312.9 110.9,321.7 112.2,324.9 113.6,320.4 115.0,319.4 116.4,309.6 117.7,326.3 119.1,307.5 120.5,310.4 121.9,309.2 123.2,307.8 124.6,308.4 126.0,297.5 127.4,302.0 128.7,294.5 130.1,302.6 131.5,299.6 132.9,306.1 134.2,297.1 135.6,294.3 137.0,289.4 138.4,298.6 139.7,273.9 141.1,288.4 142.5,288.7 143.9,276.2 145.2,280.3 146.6,271.6 148.0,264.9 149.4,281.7 150.7,283.9 152.1,270.7 153.5,272.7 154.9,271.3 156.2,272.7 157.6,275.2 159.0,273.4 160.4,271.8 161.7,274.1 163.1,290.3 164.5,294.1 165.9,303.3 167.2,300.5 168.6,302.3 170.0,313.0 171.4,311.3 172.7,318.8 174.1,312.0 175.5,336.1 176.9,332.8 178.2,337.8 179.6,338.1 181.0,346.6 182.4,350.6 183.7,346.8 185.1,347.7 186.5,349.8 187.9,361.3 189.2,365.0 190.6,349.3 192.0,365.9 193.4,360.6 194.7,366.4 196.1,362.5 197.5,369.7 198.9,364.8 200.2,365.6 201.6,381.8 203.0,358.0 204.4,368.1 205.7,369.3 207.1,373.0 208.5,373.0 209.9,360.9 211.2,378.0 212.6,367.0 214.0,365.2 215.4,365.0 216.7,369.3 218.1,373.6 219.5,370.7 220.9,367.8 222.2,364.1 223.6,367.9 225.0,378.8 226.4,385.7 227.7,382.6 229.1,359.9 230.5,369.1 231.9,379.4 233.2,372.0 234.6,372.7 236.0,374.6 237.4,382.3 238.7,377.9 240.1,388.2 241.5,385.6 242.9,389.4 244.2,392.8 245.6,381.7"/><path d="M27.0,315.1 28.4,319.4 29.7,318.4 31.1,302.7 32.5,320.1 33.9,303.4 35.2,298.5 36.6,296.4 38.0,301.1 39.4,292.2 40.7,292.7 42.1,290.2 43.5,284.4 44.9,292.0 46.2,302.3 47.6,298.8 49.0,305.9 50.4,307.9 51.7,298.4 53.1,317.4 54.5,314.0 55.9,312.5 57.2,305.4 58.6,309.5 60.0,295.4 61.4,293.1 62.7,292.6 64.1,280.3 65.5,277.6 66.9,285.5 68.2,280.9 69.6,276.0 71.0,278.6 72.4,276.9 73.7,281.0 75.1,271.1 76.5,275.3 77.9,275.5 79.2,276.1 80.6,281.3 82.0,280.0 83.4,277.1 84.7,285.9 86.1,274.4 87.5,295.6 88.9,289.5 90.2,292.6 91.6,289.8 93.0,300.1 94.4,290.9 95.7,302.6 97.1,302.0 98.5,303.6 99.9,300.6 101.2,296.0 102.6,300.1 104.0,307.8 105.4,301.2 106.7,300.0 108.1,304.9 109.5,299.2 110.9,296.7 112.2,288.3 113.6,285.1 115.0,292.4 116.4,293.9 117.7,294.1 119.1,294.1 120.5,297.5 121.9,282.8 123.2,298.4 124.6,290.8 126.0,296.7 127.4,283.2 128.7,285.4 130.1,291.7 131.5,306.2 132.9,290.8 134.2,285.0 135.6,294.1 137.0,285.8 138.4,274.2 139.7,273.8 141.1,280.1 142.5,270.2 143.9,267.5 145.2,274.6 146.6,280.8 148.0,268.6 149.4,262.2 150.7,275.4 152.1,264.2 153.5,269.8 154.9,265.9 156.2,266.5 157.6,263.4 159.0,266.7 160.4,270.4 161.7,274.0 163.1,268.1 164.5,278.2 165.9,276.3 167.2,280.9 168.6,285.0 170.0,293.8 171.4,301.3 172.7,312.4 174.1,314.3 175.5,317.9 176.9,312.1 178.2,323.8 179.6,335.8 181.0,331.9 182.4,337.6 183.7,348.5 185.1,335.1 186.5,329.2 187.9,339.1 189.2,349.3 190.6,347.7 192.0,346.2 193.4,367.4 194.7,354.5 196.1,350.9 197.5,370.8 198.9,368.0 200.2,362.2 201.6,358.4 203.0,366.7 204.4,371.4 205.7,352.8 207.1,364.0 208.5,353.7 209.9,360.7 211.2,359.0 212.6,351.5 214.0,362.2 215.4,351.2 216.7,352.7 218.1,361.0 219.5,348.9 220.9,355.3 222.2,350.6 223.6,359.0 225.0,343.6 226.4,350.9 227.7,345.7 229.1,343.0 230.5,358.2 231.9,367.1 233.2,366.7 234.6,365.5 236.0,369.9 237.4,360.6 238.7,367.5 240.1,355.2 241.5,361.7 242.9,366.8 244.2,365.3 245.6,361.1"/><path d="M27.0,312.2 28.4,308.2 29.7,314.6 31.1,311.2 32.5,300.8 33.9,296.1 35.2,296.0 36.6,296.5 38.0,283.3 39.4,298.3 40.7,284.9 42.1,293.1 43.5,306.3 44.9,287.3 46.2,291.7 47.6,307.9 49.0,308.2 50.4,306.2 51.7,302.5 53.1,315.2 54.5,299.7 55.9,316.2 57.2,319.3 58.6,310.4 60.0,306.1 61.4,297.0 62.7,295.6 64.1,304.4 65.5,289.2 66.9,293.4 68.2,305.1 69.6,297.3 71.0,281.5 72.4,285.5 73.7,288.0 75.1,279.8 76.5,294.5 77.9,290.5 79.2,290.5 80.6,297.8 82.0,296.9 83.4,300.2 84.7,301.7 86.1,292.9 87.5,303.4 88.9,299.5 90.2,305.9 91.6,314.5 93.0,310.2 94.4,317.4 95.7,315.4 97.1,311.9 98.5,316.0 99.9,318.9 101.2,302.5 102.6,306.0 104.0,304.7 105.4,318.4 106.7,306.2 108.1,321.0 109.5,316.9 110.9,319.1 112.2,314.9 113.6,317.6 115.0,313.4 116.4,327.0 117.7,315.9 119.1,325.1 120.5,326.1 121.9,312.9 123.2,309.4 124.6,303.3 126.0,314.8 127.4,302.8 128.7,305.5 130.1,316.5 131.5,302.5 132.9,314.1 134.2,320.8 135.6,314.3 137.0,299.8 138.4,321.4 139.7,319.3 141.1,296.2 142.5,303.1 143.9,286.4 145.2,295.0 146.6,286.4 148.0,299.1 149.4,297.6 150.7,290.6 152.1,289.6 153.5,275.1 154.9,292.9 156.2,278.0 157.6,277.3 159.0,283.4 160.4,286.8 161.7,287.0 163.1,285.0 164.5,293.3 165.9,292.6 167.2,301.3 168.6,292.8 170.0,311.2 171.4,304.6 172.7,315.6 174.1,306.6 175.5,323.7 176.9,317.4 178.2,328.1 179.6,330.7 181.0,337.2 182.4,341.9 183.7,342.1 185.1,330.6 186.5,342.4 187.9,344.5 189.2,352.5 190.6,359.1 192.0,347.9 193.4,360.3 194.7,357.8 196.1,366.7 197.5,358.8 198.9,365.0 200.2,354.6 201.6,358.4 203.0,364.5 204.4,358.6 205.7,356.1 207.1,351.4 208.5,356.6 209.9,372.3 211.2,352.3 212.6,358.3 214.0,350.9 215.4,361.8 216.7,358.5 218.1,362.3 219.5,355.9 220.9,363.4 222.2,363.9 223.6,375.9 225.0,368.5 226.4,373.7 227.7,386.5 229.1,365.3 230.5,375.8 231.9,383.1 233.2,388.1 234.6,384.3 236.0,383.5 237.4,385.8 238.7,397.8 240.1,388.6 241.5,399.2 242.9,383.4 244.2,374.8 245.6,377.7"/><path d="M27.0,315.4 28.4,318.4 29.7,316.7 31.1,311.7 32.5,308.4 33.9,307.0 35.2,308.4 36.6,299.2 38.0,297.6 39.4,299.3 40.7,295.6 42.1,291.8 43.5,302.5 44.9,308.1 46.2,302.2 47.6,311.0 49.0,312.2 50.4,308.7 51.7,323.7 53.1,317.4 54.5,310.0 55.9,315.8 57.2,314.5 58.6,314.6 60.0,305.9 61.4,297.9 62.7,291.5 64.1,294.7 65.5,286.2 66.9,295.6 68.2,297.5 69.6,291.2 71.0,291.8 72.4,295.6 73.7,300.9 75.1,285.1 76.5,276.6 77.9,288.3 79.2,268.0 80.6,282.3 82.0,271.2 83.4,274.9 84.7,287.0 86.1,286.3 87.5,278.7 88.9,295.8 90.2,294.3 91.6,289.1 93.0,296.7 94.4,296.1 95.7,313.1 97.1,303.4 98.5,314.3 99.9,297.3 101.2,305.4 102.6,291.3 104.0,307.3 105.4,300.1 106.7,294.7 108.1,299.3 109.5,286.2 110.9,295.3 112.2,292.7 113.6,288.2 115.0,299.8 116.4,285.3 117.7,290.1 119.1,292.5 120.5,290.7 121.9,292.0 123.2,289.4 124.6,298.0 126.0,307.8 127.4,293.3 128.7,288.8 130.1,300.4 131.5,284.7 132.9,278.7 134.2,272.9 135.6,286.9 137.0,283.8 138.4,268.7 139.7,281.0 141.1,282.4 142.5,278.9 143.9,270.8 145.2,276.0 146.6,276.6 148.0,280.9 149.4,275.6 150.7,286.7 152.1,289.5 153.5,287.2 154.9,289.1 156.2,281.6 157.6,285.2 159.0,276.7 160.4,294.8 161.7,283.8 163.1,287.8 164.5,300.3 165.9,293.1 167.2,300.5 168.6,298.7 170.0,296.8 171.4,307.1 172.7,299.1 174.1,322.6 175.5,321.7 176.9,323.1 178.2,322.1 179.6,321.1 181.0,332.6 182.4,351.3 183.7,335.4 185.1,344.7 186.5,345.5 187.9,350.4 189.2,360.2 190.6,349.1 192.0,354.2 193.4,343.8 194.7,366.0 196.1,353.4 197.5,364.5 198.9,348.2 200.2,357.2 201.6,366.4 203.0,359.0 204.4,342.4 205.7,353.3 207.1,364.7 208.5,366.5 209.9,350.9 211.2,361.3 212.6,367.8 214.0,348.9 215.4,350.3 216.7,351.8 218.1,357.0 219.5,350.9 220.9,346.7 222.2,347.4 223.6,353.0 225.0,355.8 226.4,345.2 227.7,340.3 229.1,356.7 230.5,349.5 231.9,359.1 233.2,361.8 234.6,361.6 236.0,367.7 237.4,358.6 238.7,356.8 240.1,367.8 241.5,372.2 242.9,370.6 244.2,359.7 245.6,380.1"/><path d="M27.0,323.6 28.4,314.6 29.7,318.0 31.1,308.5 32.5,318.3 33.9,317.6 35.2,319.4 36.6,312.9 38.0,311.7 39.4,320.9 40.7,313.2 42.1,315.4 43.5,312.4 44.9,315.0 46.2,326.4 47.6,324.7 49.0,339.7 50.4,328.9 51.7,325.6 53.1,325.5 54.5,328.8 55.9,322.8 57.2,327.6 58.6,330.0 60.0,314.9 61.4,307.0 62.7,311.4 64.1,309.1 65.5,312.0 66.9,305.4 68.2,299.2 69.6,303.8 71.0,298.2 72.4,302.1 73.7,299.5 75.1,296.8 76.5,290.8 77.9,292.6 79.2,292.6 80.6,303.1 82.0,290.4 83.4,308.6 84.7,316.2 86.1,314.9 87.5,312.4 88.9,318.2 90.2,330.9 91.6,324.1 93.0,320.6 94.4,330.7 95.7,336.1 97.1,333.7 98.5,335.2 99.9,325.5 101.2,326.5 102.6,335.8 104.0,322.1 105.4,330.7 106.7,333.5 108.1,322.8 109.5,314.1 110.9,321.6 112.2,320.0 113.6,324.7 115.0,328.0 116.4,330.5 117.7,343.3 119.1,327.5 120.5,330.6 121.9,322.1 123.2,323.1 124.6,309.2 126.0,318.8 127.4,308.5 128.7,305.2 130.1,316.9 131.5,301.5 132.9,306.8 134.2,307.2 135.6,316.1 137.0,316.0 138.4,308.6 139.7,301.2 141.1,287.7 142.5,296.8 143.9,290.5 145.2,294.7 146.6,296.5 148.0,288.6 149.4,285.2 150.7,303.4 152.1,294.7 153.5,307.8 154.9,293.3 156.2,297.6 157.6,300.3 159.0,296.9 160.4,293.6 161.7,301.2 163.1,306.2 164.5,304.4 165.9,297.0 167.2,306.1 168.6,320.0 170.0,318.9 171.4,311.1 172.7,328.0 174.1,325.4 175.5,325.2 176.9,334.5 178.2,334.9 179.6,335.9 181.0,333.0 182.4,336.9 183.7,338.3 185.1,345.4 186.5,362.5 187.9,364.4 189.2,353.0 190.6,369.0 192.0,373.8 193.4,366.4 194.7,370.2 196.1,371.0 197.5,371.3 198.9,361.8 200.2,380.9 201.6,376.2 203.0,376.7 204.4,370.8 205.7,372.9 207.1,373.2 208.5,381.9 209.9,374.0 211.2,373.9 212.6,384.2 214.0,373.6 215.4,375.7 216.7,383.9 218.1,386.1 219.5,382.5 220.9,368.4 222.2,375.7 223.6,368.7 225.0,372.4 226.4,390.9 227.7,372.6 229.1,376.4 230.5,373.6 231.9,377.5 233.2,380.8 234.6,376.9 236.0,377.7 237.4,386.9 238.7,389.3 240.1,395.4 241.5,402.4 242.9,386.9 244.2,389.9 245.6,395.4"/><path d="M27.0,328.9 28.4,328.0 29.7,326.6 31.1,320.4 32.5,318.7 33.9,323.4 35.2,315.7 36.6,319.3 38.0,317.1 39.4,313.1 40.7,312.1 42.1,335.3 43.5,326.5 44.9,327.4 46.2,324.6 47.6,329.9 49.0,334.7 50.4,337.9 51.7,333.5 53.1,333.3 54.5,324.9 55.9,324.5 57.2,315.2 58.6,326.1 60.0,318.9 61.4,319.9 62.7,319.0 64.1,321.4 65.5,319.4 66.9,320.6 68.2,328.2 69.6,307.0 71.0,310.0 72.4,309.9 73.7,313.1 75.1,311.3 76.5,307.6 77.9,315.8 79.2,301.6 80.6,308.4 82.0,311.5 83.4,318.4 84.7,317.9 86.1,325.9 87.5,320.8 88.9,317.0 90.2,318.1 91.6,325.1 93.0,322.4 94.4,318.1 95.7,337.4 97.1,327.4 98.5,324.3 99.9,324.3 101.2,318.7 102.6,329.0 104.0,320.2 105.4,314.4 106.7,329.8 108.1,337.0 109.5,325.8 110.9,323.4 112.2,325.2 113.6,316.7 115.0,324.8 116.4,319.2 117.7,326.5 119.1,313.5 120.5,324.0 121.9,317.2 123.2,320.7 124.6,315.0 126.0,316.5 127.4,319.9 128.7,309.4 130.1,318.7 131.5,329.6 132.9,314.9 134.2,326.9 135.6,321.3 137.0,321.8 138.4,314.0 139.7,322.6 141.1,321.2 142.5,311.6 143.9,305.8 145.2,301.8 146.6,304.7 148.0,288.9 149.4,303.6 150.7,291.2 152.1,303.0 153.5,301.4 154.9,300.0 156.2,304.9 157.6,301.5 159.0,299.8 160.4,301.6 161.7,297.5 163.1,304.0 164.5,310.5 165.9,304.2 167.2,314.6 168.6,312.8 170.0,320.6 171.4,322.3 172.7,329.2 174.1,319.9 175.5,327.9 176.9,333.3 178.2,330.6 179.6,345.7 181.0,338.4 182.4,342.5 183.7,352.4 185.1,348.3 186.5,354.2 187.9,360.4 189.2,359.9 190.6,358.7 192.0,362.2 193.4,359.1 194.7,360.0 196.1,371.7 197.5,372.1 198.9,373.8 200.2,385.6 201.6,372.0 203.0,385.7 204.4,376.0 205.7,388.6 207.1,367.4 208.5,366.6 209.9,390.3 211.2,387.1 212.6,378.8 214.0,386.3 215.4,380.5 216.7,376.1 218.1,380.9 219.5,388.7 220.9,369.2 222.2,367.7 223.6,377.7 225.0,370.5 226.4,372.7 227.7,376.4 229.1,366.4 230.5,374.7 231.9,366.6 233.2,379.1 234.6,374.5 236.0,377.7 237.4,381.1 238.7,382.6 240.1,389.2 241.5,386.3 242.9,384.9 244.2,388.2 245.6,385.1"/><path d="M27.0,330.8 28.4,326.3 29.7,321.3 31.1,320.7 32.5,324.1 33.9,320.9 35.2,318.5 36.6,311.0 38.0,297.6 39.4,308.8 40.7,299.7 42.1,307.4 43.5,290.2 44.9,307.1 46.2,312.0 47.6,317.8 49.0,307.7 50.4,329.2 51.7,313.8 53.1,316.5 54.5,326.5 55.9,303.7 57.2,320.2 58.6,312.7 60.0,310.0 61.4,312.7 62.7,306.9 64.1,304.5 65.5,308.0 66.9,301.6 68.2,314.6 69.6,303.7 71.0,307.1 72.4,295.8 73.7,299.0 75.1,306.5 76.5,300.5 77.9,300.6 79.2,301.8 80.6,310.0 82.0,292.3 83.4,305.1 84.7,305.7 86.1,321.8 87.5,308.0 88.9,304.0 90.2,324.9 91.6,311.2 93.0,314.2 94.4,312.6 95.7,311.5 97.1,313.4 98.5,310.0 99.9,319.8 101.2,316.3 102.6,319.0 104.0,308.3 105.4,314.5 106.7,300.5 108.1,318.9 109.5,305.0 110.9,313.1 112.2,313.5 113.6,308.3 115.0,312.0 116.4,308.3 117.7,329.6 119.1,330.3 120.5,318.4 121.9,316.2 123.2,326.4 124.6,306.5 126.0,311.5 127.4,315.2 128.7,312.8 130.1,309.4 131.5,313.6 132.9,307.4 134.2,301.7 135.6,305.6 137.0,327.5 138.4,317.9 139.7,314.5 141.1,303.4 142.5,300.3 143.9,303.0 145.2,304.4 146.6,286.6 148.0,282.8 149.4,297.4 150.7,293.4 152.1,293.1 153.5,307.6 154.9,298.2 156.2,297.4 157.6,292.6 159.0,303.1 160.4,306.1 161.7,300.1 163.1,301.7 164.5,305.0 165.9,307.2 167.2,308.1 168.6,298.9 170.0,314.8 171.4,314.4 172.7,328.5 174.1,329.5 175.5,333.4 176.9,333.3 178.2,330.7 179.6,335.6 181.0,327.3 182.4,338.1 183.7,342.6 185.1,349.8 186.5,353.0 187.9,349.2 189.2,354.2 190.6,358.8 192.0,358.0 193.4,360.1 194.7,362.7 196.1,372.8 197.5,365.5 198.9,356.4 200.2,360.3 201.6,345.9 203.0,350.8 204.4,356.9 205.7,357.3 207.1,346.7 208.5,355.1 209.9,365.2 211.2,366.4 212.6,353.7 214.0,352.9 215.4,362.0 216.7,350.9 218.1,347.6 219.5,349.8 220.9,349.8 222.2,371.7 223.6,359.8 225.0,351.4 226.4,371.1 227.7,377.7 229.1,366.3 230.5,362.0 231.9,368.4 233.2,373.1 234.6,377.2 236.0,380.8 237.4,371.4 238.7,385.5 240.1,385.5 241.5,370.6 242.9,379.7 244.2,382.0 245.6,375.2"/><path d="M27.0,325.6 28.4,316.1 29.7,326.0 31.1,312.0 32.5,299.4 33.9,297.9 35.2,294.5 36.6,291.9 38.0,293.5 39.4,278.4 40.7,277.3 42.1,273.2 43.5,275.5 44.9,283.0 46.2,283.6 47.6,292.4 49.0,303.3 50.4,303.9 51.7,303.0 53.1,306.9 54.5,306.3 55.9,298.6 57.2,298.7 58.6,295.6 60.0,297.8 61.4,302.0 62.7,302.3 64.1,293.8 65.5,300.7 66.9,289.5 68.2,294.9 69.6,296.5 71.0,290.1 72.4,300.9 73.7,296.3 75.1,297.5 76.5,302.0 77.9,303.7 79.2,291.1 80.6,302.1 82.0,298.4 83.4,303.6 84.7,301.7 86.1,291.0 87.5,297.5 88.9,298.6 90.2,300.7 91.6,302.4 93.0,299.4 94.4,302.5 95.7,301.4 97.1,307.5 98.5,304.2 99.9,312.3 101.2,313.0 102.6,300.3 104.0,304.5 105.4,298.4 106.7,303.8 108.1,304.3 109.5,307.0 110.9,304.3 112.2,299.3 113.6,304.6 115.0,308.5 116.4,303.4 117.7,292.8 119.1,303.6 120.5,304.4 121.9,299.3 123.2,298.7 124.6,310.7 126.0,295.9 127.4,295.1 128.7,297.6 130.1,299.5 131.5,291.1 132.9,293.2 134.2,297.0 135.6,287.9 137.0,288.0 138.4,286.3 139.7,289.1 141.1,295.0 142.5,293.8 143.9,295.3 145.2,293.1 146.6,284.6 148.0,287.8 149.4,283.9 150.7,287.7 152.1,282.4 153.5,280.3 154.9,292.4 156.2,284.3 157.6,278.9 159.0,286.5 160.4,290.1 161.7,288.6 163.1,284.3 164.5,290.5 165.9,285.7 167.2,287.5 168.6,301.9 170.0,301.3 171.4,303.8 172.7,300.6 174.1,308.3 175.5,315.5 176.9,322.4 178.2,323.2 179.6,325.6 181.0,328.8 182.4,335.2 183.7,335.5 185.1,346.5 186.5,333.7 187.9,343.5 189.2,345.2 190.6,348.8 192.0,354.1 193.4,362.9 194.7,352.3 196.1,357.5 197.5,361.0 198.9,355.2 200.2,368.5 201.6,359.6 203.0,363.1 204.4,362.3 205.7,356.7 207.1,355.2 208.5,369.2 209.9,359.9 211.2,362.5 212.6,372.6 214.0,373.0 215.4,360.8 216.7,369.9 218.1,363.3 219.5,375.6 220.9,362.5 222.2,360.9 223.6,373.6 225.0,366.7 226.4,374.1 227.7,365.9 229.1,377.2 230.5,372.1 231.9,377.4 233.2,379.2 234.6,380.0 236.0,372.3 237.4,374.3 238.7,383.6 240.1,380.9 241.5,374.8 242.9,383.4 244.2,380.5 245.6,377.9"/></g>
<rect x="19.0" y="247.5" width="235.2" height="158.1" fill="none" stroke="#555" stroke-width="1.15"/>
<path d="M27.0,405.6V410.4M70.7,405.6V410.4M114.4,405.6V410.4M158.2,405.6V410.4M201.9,405.6V410.4M245.6,405.6V410.4M19.0,282.4H14.4M19.0,321.4H14.4M19.0,360.3H14.4M19.0,399.3H14.4" stroke="#555" stroke-width="1" fill="none"/>
<text x="27.0" y="422.5" text-anchor="middle" class="tl">0.0</text>
<text x="70.7" y="422.5" text-anchor="middle" class="tl">0.2</text>
<text x="114.4" y="422.5" text-anchor="middle" class="tl">0.4</text>
<text x="158.2" y="422.5" text-anchor="middle" class="tl">0.6</text>
<text x="201.9" y="422.5" text-anchor="middle" class="tl">0.8</text>
<text x="245.6" y="422.5" text-anchor="middle" class="tl">1.0</text>
<text transform="translate(9.6,282.4) rotate(-90)" text-anchor="middle" class="tl">40</text>
<text transform="translate(9.6,321.4) rotate(-90)" text-anchor="middle" class="tl">20</text>
<text transform="translate(9.6,360.3) rotate(-90)" text-anchor="middle" class="tl">0</text>
<text transform="translate(9.6,399.3) rotate(-90)" text-anchor="middle" class="tl">&#8722;20</text>
<g clip-path="url(#clipd)" fill="none" stroke="#000" stroke-width="0.9" stroke-linejoin="round"><path d="M325.5,302.2 326.9,310.0 328.3,310.0 329.6,298.6 331.0,301.5 332.4,288.0 333.8,283.5 335.1,297.9 336.5,300.0 337.9,290.3 339.3,312.9 340.6,303.1 342.0,325.2 343.4,316.2 344.8,318.4 346.1,327.4 347.5,321.8 348.9,336.3 350.3,330.1 351.6,345.1 353.0,344.7 354.4,342.4 355.8,341.8 357.2,335.4 358.5,340.4 359.9,332.9 361.3,311.1 362.7,320.6 364.0,313.1 365.4,305.3 366.8,305.4 368.2,294.6 369.5,313.6 370.9,298.9 372.3,311.8 373.7,300.1 375.0,292.0 376.4,290.0 377.8,295.8 379.2,303.6 380.5,293.9 381.9,301.8 383.3,297.7 384.7,288.9 386.0,306.2 387.4,299.4 388.8,301.1 390.2,305.0 391.6,300.2 392.9,308.5 394.3,311.1 395.7,300.2 397.1,313.1 398.4,316.1 399.8,305.4 401.2,300.8 402.6,302.7 403.9,314.9 405.3,308.2 406.7,303.1 408.1,319.8 409.4,310.7 410.8,311.8 412.2,317.1 413.6,314.0 414.9,307.8 416.3,305.9 417.7,301.3 419.1,304.4 420.5,312.0 421.8,299.0 423.2,309.9 424.6,302.1 426.0,303.8 427.3,306.2 428.7,308.8 430.1,303.5 431.5,304.7 432.8,301.4 434.2,292.7 435.6,312.8 437.0,286.0 438.3,293.8 439.7,294.9 441.1,306.4 442.5,287.9 443.8,304.6 445.2,300.6 446.6,298.0 448.0,303.0 449.3,293.2 450.7,307.6 452.1,304.6 453.5,292.1 454.9,296.4 456.2,315.4 457.6,298.2 459.0,310.2 460.4,301.5 461.7,293.7 463.1,300.9 464.5,304.9 465.9,293.9 467.2,299.4 468.6,308.3 470.0,299.0 471.4,307.5 472.7,295.6 474.1,307.1 475.5,291.1 476.9,297.3 478.2,313.2 479.6,302.9 481.0,313.4 482.4,311.1 483.8,316.1 485.1,304.1 486.5,326.5 487.9,327.1 489.3,323.3 490.6,335.3 492.0,334.6 493.4,341.8 494.8,348.3 496.1,343.2 497.5,347.1 498.9,361.7 500.3,367.5 501.6,352.7 503.0,346.2 504.4,365.2 505.8,352.5 507.1,370.3 508.5,366.5 509.9,358.6 511.3,367.0 512.6,365.6 514.0,356.5 515.4,355.8 516.8,361.9 518.2,367.1 519.5,370.2 520.9,372.2 522.3,354.8 523.7,357.4 525.0,373.2 526.4,366.1 527.8,378.3 529.2,378.1 530.5,382.7 531.9,379.5 533.3,375.5 534.7,378.4 536.0,381.2 537.4,374.5 538.8,372.9 540.2,374.4 541.5,386.0 542.9,379.8 544.3,374.4"/><path d="M325.5,335.8 326.9,319.3 328.3,322.7 329.6,319.2 331.0,301.8 332.4,312.1 333.8,308.5 335.1,311.0 336.5,311.6 337.9,318.2 339.3,324.7 340.6,322.6 342.0,315.9 343.4,325.2 344.8,314.3 346.1,323.5 347.5,330.4 348.9,339.0 350.3,338.1 351.6,335.0 353.0,335.2 354.4,334.3 355.8,332.9 357.2,344.4 358.5,338.9 359.9,336.6 361.3,328.7 362.7,317.2 364.0,316.9 365.4,324.5 366.8,313.8 368.2,310.8 369.5,319.6 370.9,310.0 372.3,312.4 373.7,317.8 375.0,314.9 376.4,315.8 377.8,314.6 379.2,322.9 380.5,315.2 381.9,326.1 383.3,323.7 384.7,322.6 386.0,324.5 387.4,341.4 388.8,323.8 390.2,330.9 391.6,314.6 392.9,331.2 394.3,331.1 395.7,334.0 397.1,342.8 398.4,343.0 399.8,332.4 401.2,333.1 402.6,336.2 403.9,333.6 405.3,332.5 406.7,325.1 408.1,328.4 409.4,326.6 410.8,324.5 412.2,334.3 413.6,334.0 414.9,348.4 416.3,335.6 417.7,337.8 419.1,338.2 420.5,338.3 421.8,336.5 423.2,334.0 424.6,324.5 426.0,332.5 427.3,330.9 428.7,312.5 430.1,334.5 431.5,326.3 432.8,331.3 434.2,328.7 435.6,315.1 437.0,316.2 438.3,321.8 439.7,321.9 441.1,299.8 442.5,310.8 443.8,298.6 445.2,306.2 446.6,304.5 448.0,311.6 449.3,298.7 450.7,299.5 452.1,304.9 453.5,295.2 454.9,299.2 456.2,301.8 457.6,294.9 459.0,300.1 460.4,295.4 461.7,293.2 463.1,293.0 464.5,306.4 465.9,307.4 467.2,305.6 468.6,317.3 470.0,311.2 471.4,320.7 472.7,320.8 474.1,317.1 475.5,319.3 476.9,319.8 478.2,328.3 479.6,328.4 481.0,339.5 482.4,346.5 483.8,339.4 485.1,352.7 486.5,343.7 487.9,350.2 489.3,354.0 490.6,355.9 492.0,362.9 493.4,371.7 494.8,362.8 496.1,376.0 497.5,358.7 498.9,362.1 500.3,365.7 501.6,374.4 503.0,371.6 504.4,358.5 505.8,364.4 507.1,350.9 508.5,370.3 509.9,367.4 511.3,359.5 512.6,367.6 514.0,363.3 515.4,367.8 516.8,365.2 518.2,380.9 519.5,370.5 520.9,371.9 522.3,371.3 523.7,377.6 525.0,374.6 526.4,376.9 527.8,381.9 529.2,382.0 530.5,378.9 531.9,366.3 533.3,378.0 534.7,379.9 536.0,391.2 537.4,392.4 538.8,386.1 540.2,371.6 541.5,394.4 542.9,391.6 544.3,390.6"/><path d="M325.5,332.6 326.9,329.7 328.3,311.8 329.6,318.1 331.0,310.2 332.4,314.3 333.8,314.7 335.1,320.2 336.5,306.7 337.9,312.6 339.3,318.7 340.6,312.2 342.0,306.8 343.4,303.7 344.8,317.5 346.1,338.0 347.5,317.8 348.9,333.3 350.3,341.2 351.6,340.2 353.0,336.3 354.4,334.7 355.8,327.1 357.2,341.7 358.5,327.6 359.9,316.0 361.3,315.9 362.7,299.6 364.0,298.5 365.4,303.9 366.8,298.0 368.2,294.9 369.5,276.8 370.9,274.4 372.3,268.8 373.7,277.5 375.0,275.8 376.4,277.9 377.8,283.3 379.2,278.6 380.5,286.4 381.9,291.6 383.3,290.8 384.7,305.3 386.0,301.9 387.4,291.9 388.8,301.4 390.2,304.0 391.6,300.7 392.9,310.3 394.3,304.6 395.7,296.1 397.1,299.9 398.4,311.7 399.8,323.0 401.2,323.9 402.6,322.5 403.9,334.8 405.3,327.6 406.7,320.9 408.1,318.8 409.4,323.1 410.8,315.1 412.2,309.7 413.6,310.0 414.9,325.4 416.3,316.5 417.7,304.6 419.1,306.7 420.5,318.2 421.8,311.6 423.2,307.0 424.6,306.5 426.0,309.4 427.3,308.6 428.7,310.6 430.1,298.9 431.5,298.6 432.8,293.9 434.2,296.5 435.6,288.3 437.0,309.1 438.3,300.1 439.7,295.7 441.1,291.3 442.5,304.8 443.8,301.6 445.2,301.6 446.6,298.7 448.0,301.9 449.3,306.0 450.7,294.7 452.1,295.6 453.5,300.6 454.9,307.6 456.2,310.9 457.6,298.2 459.0,296.7 460.4,321.0 461.7,297.4 463.1,312.0 464.5,303.3 465.9,316.3 467.2,307.3 468.6,324.7 470.0,311.5 471.4,329.0 472.7,325.6 474.1,323.2 475.5,327.7 476.9,328.0 478.2,334.1 479.6,339.4 481.0,339.7 482.4,331.7 483.8,340.9 485.1,336.9 486.5,342.8 487.9,343.5 489.3,351.9 490.6,356.6 492.0,360.2 493.4,365.1 494.8,368.7 496.1,361.4 497.5,369.2 498.9,377.0 500.3,370.5 501.6,373.3 503.0,368.3 504.4,360.8 505.8,380.1 507.1,377.1 508.5,368.3 509.9,378.9 511.3,373.7 512.6,375.4 514.0,369.2 515.4,368.1 516.8,371.3 518.2,362.0 519.5,362.6 520.9,354.7 522.3,368.9 523.7,358.9 525.0,363.9 526.4,362.3 527.8,363.8 529.2,374.5 530.5,363.5 531.9,373.8 533.3,366.9 534.7,371.9 536.0,373.9 537.4,366.3 538.8,372.5 540.2,364.6 541.5,375.0 542.9,363.0 544.3,368.9"/><path d="M325.5,336.8 326.9,330.0 328.3,314.4 329.6,304.3 331.0,307.0 332.4,319.6 333.8,294.7 335.1,308.2 336.5,307.1 337.9,303.7 339.3,304.3 340.6,310.5 342.0,312.9 343.4,311.3 344.8,312.4 346.1,320.3 347.5,322.0 348.9,333.7 350.3,330.1 351.6,339.9 353.0,339.7 354.4,337.0 355.8,329.3 357.2,327.7 358.5,329.3 359.9,336.4 361.3,333.8 362.7,319.8 364.0,312.1 365.4,320.6 366.8,309.2 368.2,303.2 369.5,309.2 370.9,313.7 372.3,309.5 373.7,313.9 375.0,313.6 376.4,318.2 377.8,315.3 379.2,320.1 380.5,323.6 381.9,313.4 383.3,320.7 384.7,328.2 386.0,326.8 387.4,325.7 388.8,338.5 390.2,334.3 391.6,324.9 392.9,330.7 394.3,348.4 395.7,347.1 397.1,352.8 398.4,347.9 399.8,342.6 401.2,336.0 402.6,343.2 403.9,337.2 405.3,339.6 406.7,334.6 408.1,342.0 409.4,335.6 410.8,335.6 412.2,343.0 413.6,339.3 414.9,350.6 416.3,346.8 417.7,342.4 419.1,351.1 420.5,331.5 421.8,326.6 423.2,331.5 424.6,337.9 426.0,331.0 427.3,322.6 428.7,324.6 430.1,326.9 431.5,330.5 432.8,333.2 434.2,318.6 435.6,314.9 437.0,323.9 438.3,326.4 439.7,326.3 441.1,318.0 442.5,320.2 443.8,320.6 445.2,318.8 446.6,301.5 448.0,325.8 449.3,312.0 450.7,304.9 452.1,304.5 453.5,318.7 454.9,301.1 456.2,299.7 457.6,301.9 459.0,298.0 460.4,294.8 461.7,315.3 463.1,303.6 464.5,312.7 465.9,327.0 467.2,321.3 468.6,322.6 470.0,323.6 471.4,323.2 472.7,331.7 474.1,322.8 475.5,328.9 476.9,330.2 478.2,345.7 479.6,333.0 481.0,336.9 482.4,339.1 483.8,336.2 485.1,339.5 486.5,344.9 487.9,347.6 489.3,358.5 490.6,363.5 492.0,362.4 493.4,363.8 494.8,365.4 496.1,372.8 497.5,359.0 498.9,362.0 500.3,362.5 501.6,374.0 503.0,378.0 504.4,370.7 505.8,375.3 507.1,373.9 508.5,375.9 509.9,375.5 511.3,372.5 512.6,375.3 514.0,382.4 515.4,383.3 516.8,365.0 518.2,377.1 519.5,371.4 520.9,366.4 522.3,375.2 523.7,372.0 525.0,385.2 526.4,377.2 527.8,388.8 529.2,385.0 530.5,395.5 531.9,371.5 533.3,377.5 534.7,375.6 536.0,388.1 537.4,378.3 538.8,382.9 540.2,389.0 541.5,379.9 542.9,389.0 544.3,380.9"/><path d="M325.5,300.5 326.9,280.2 328.3,295.5 329.6,294.2 331.0,292.0 332.4,277.5 333.8,284.9 335.1,286.1 336.5,279.8 337.9,270.4 339.3,279.8 340.6,286.6 342.0,285.1 343.4,293.7 344.8,294.5 346.1,307.2 347.5,313.6 348.9,314.8 350.3,318.2 351.6,318.6 353.0,306.3 354.4,309.9 355.8,298.5 357.2,286.5 358.5,300.9 359.9,288.4 361.3,292.5 362.7,290.1 364.0,283.5 365.4,281.6 366.8,285.3 368.2,274.6 369.5,286.4 370.9,284.2 372.3,270.0 373.7,266.9 375.0,271.5 376.4,282.0 377.8,277.4 379.2,275.5 380.5,297.9 381.9,288.4 383.3,299.8 384.7,287.6 386.0,292.8 387.4,297.6 388.8,304.5 390.2,314.3 391.6,305.3 392.9,294.8 394.3,293.1 395.7,287.9 397.1,305.2 398.4,303.4 399.8,307.0 401.2,309.9 402.6,296.8 403.9,303.9 405.3,299.1 406.7,301.9 408.1,300.8 409.4,315.3 410.8,309.7 412.2,309.3 413.6,303.8 414.9,298.2 416.3,301.2 417.7,292.5 419.1,289.5 420.5,295.2 421.8,300.0 423.2,305.5 424.6,289.3 426.0,302.6 427.3,301.2 428.7,294.1 430.1,302.4 431.5,299.9 432.8,287.1 434.2,291.4 435.6,298.2 437.0,278.7 438.3,285.5 439.7,287.1 441.1,299.2 442.5,277.5 443.8,294.2 445.2,288.9 446.6,293.0 448.0,293.2 449.3,289.2 450.7,299.5 452.1,300.5 453.5,298.0 454.9,313.6 456.2,294.3 457.6,307.3 459.0,302.1 460.4,302.2 461.7,294.9 463.1,298.7 464.5,301.2 465.9,295.4 467.2,308.6 468.6,311.3 470.0,306.0 471.4,315.1 472.7,318.0 474.1,314.4 475.5,322.1 476.9,330.0 478.2,325.7 479.6,326.5 481.0,333.2 482.4,328.1 483.8,321.1 485.1,332.3 486.5,325.2 487.9,347.3 489.3,338.7 490.6,356.7 492.0,352.2 493.4,359.4 494.8,350.0 496.1,344.5 497.5,350.2 498.9,371.7 500.3,358.5 501.6,359.3 503.0,355.1 504.4,357.5 505.8,361.9 507.1,357.4 508.5,358.3 509.9,337.2 511.3,347.2 512.6,358.2 514.0,346.3 515.4,351.1 516.8,354.9 518.2,353.4 519.5,355.1 520.9,351.8 522.3,356.8 523.7,351.0 525.0,357.5 526.4,356.4 527.8,363.0 529.2,352.6 530.5,367.2 531.9,358.0 533.3,357.9 534.7,355.9 536.0,380.8 537.4,361.0 538.8,366.1 540.2,360.9 541.5,375.3 542.9,378.7 544.3,360.9"/><path d="M325.5,325.8 326.9,313.3 328.3,308.6 329.6,308.6 331.0,315.1 332.4,301.8 333.8,288.9 335.1,305.5 336.5,310.6 337.9,304.5 339.3,307.3 340.6,299.3 342.0,316.1 343.4,314.6 344.8,317.2 346.1,316.0 347.5,344.9 348.9,337.5 350.3,341.9 351.6,342.7 353.0,335.4 354.4,346.9 355.8,335.8 357.2,325.8 358.5,326.0 359.9,321.9 361.3,327.9 362.7,326.6 364.0,312.1 365.4,315.0 366.8,310.0 368.2,302.5 369.5,306.8 370.9,308.2 372.3,300.3 373.7,299.9 375.0,296.2 376.4,304.2 377.8,311.0 379.2,305.2 380.5,308.6 381.9,317.0 383.3,318.0 384.7,321.0 386.0,315.9 387.4,313.5 388.8,311.5 390.2,331.1 391.6,331.8 392.9,338.6 394.3,337.0 395.7,340.2 397.1,343.0 398.4,328.7 399.8,333.3 401.2,334.8 402.6,327.7 403.9,329.2 405.3,331.4 406.7,323.4 408.1,330.4 409.4,326.0 410.8,328.6 412.2,327.0 413.6,322.1 414.9,333.5 416.3,330.0 417.7,336.2 419.1,331.2 420.5,312.0 421.8,308.2 423.2,324.8 424.6,307.2 426.0,296.9 427.3,297.8 428.7,310.8 430.1,298.1 431.5,291.4 432.8,304.1 434.2,294.8 435.6,295.7 437.0,294.9 438.3,302.6 439.7,291.8 441.1,299.5 442.5,294.9 443.8,291.4 445.2,294.4 446.6,297.9 448.0,298.7 449.3,297.2 450.7,288.7 452.1,303.5 453.5,298.5 454.9,297.5 456.2,304.4 457.6,301.8 459.0,300.4 460.4,305.2 461.7,317.2 463.1,306.4 464.5,298.3 465.9,314.8 467.2,301.5 468.6,311.5 470.0,301.5 471.4,315.4 472.7,311.6 474.1,323.1 475.5,323.2 476.9,324.2 478.2,330.3 479.6,331.6 481.0,325.6 482.4,329.3 483.8,331.1 485.1,335.3 486.5,338.5 487.9,363.5 489.3,348.5 490.6,350.9 492.0,353.7 493.4,360.2 494.8,361.2 496.1,364.9 497.5,367.8 498.9,370.4 500.3,361.1 501.6,364.0 503.0,364.6 504.4,381.7 505.8,363.8 507.1,369.6 508.5,360.1 509.9,369.4 511.3,363.2 512.6,372.8 514.0,370.3 515.4,368.2 516.8,373.9 518.2,371.1 519.5,366.5 520.9,371.2 522.3,360.2 523.7,372.2 525.0,357.7 526.4,363.0 527.8,365.9 529.2,366.2 530.5,361.4 531.9,381.7 533.3,364.6 534.7,365.0 536.0,366.3 537.4,366.3 538.8,372.8 540.2,372.0 541.5,377.8 542.9,371.8 544.3,376.1"/><path d="M325.5,326.3 326.9,318.3 328.3,308.2 329.6,322.2 331.0,312.5 332.4,300.6 333.8,305.3 335.1,312.9 336.5,306.6 337.9,303.1 339.3,317.0 340.6,316.2 342.0,325.1 343.4,320.1 344.8,323.6 346.1,321.1 347.5,323.1 348.9,336.7 350.3,337.9 351.6,337.8 353.0,335.0 354.4,335.5 355.8,334.7 357.2,340.8 358.5,336.2 359.9,325.1 361.3,328.5 362.7,314.9 364.0,326.7 365.4,313.4 366.8,300.7 368.2,310.6 369.5,299.4 370.9,307.9 372.3,303.0 373.7,296.4 375.0,303.4 376.4,295.4 377.8,301.5 379.2,308.7 380.5,294.9 381.9,304.7 383.3,315.6 384.7,322.1 386.0,303.5 387.4,309.5 388.8,318.7 390.2,330.6 391.6,325.5 392.9,320.5 394.3,337.5 395.7,325.7 397.1,327.0 398.4,336.4 399.8,334.4 401.2,327.6 402.6,332.8 403.9,319.6 405.3,327.9 406.7,335.0 408.1,330.6 409.4,330.9 410.8,320.9 412.2,322.5 413.6,332.2 414.9,334.5 416.3,331.3 417.7,324.1 419.1,324.1 420.5,330.5 421.8,314.7 423.2,317.6 424.6,317.8 426.0,331.2 427.3,311.5 428.7,324.9 430.1,301.6 431.5,314.7 432.8,321.9 434.2,308.3 435.6,306.3 437.0,312.6 438.3,317.2 439.7,311.8 441.1,317.8 442.5,309.9 443.8,307.0 445.2,315.1 446.6,302.2 448.0,305.2 449.3,302.4 450.7,314.9 452.1,308.2 453.5,312.0 454.9,299.2 456.2,315.9 457.6,322.0 459.0,320.6 460.4,314.6 461.7,313.2 463.1,315.7 464.5,312.6 465.9,324.5 467.2,321.9 468.6,329.2 470.0,327.6 471.4,329.2 472.7,334.3 474.1,319.9 475.5,328.5 476.9,340.7 478.2,334.7 479.6,341.3 481.0,336.9 482.4,335.8 483.8,350.7 485.1,348.0 486.5,353.8 487.9,357.8 489.3,367.4 490.6,363.4 492.0,364.2 493.4,361.9 494.8,370.3 496.1,360.9 497.5,372.8 498.9,368.0 500.3,383.6 501.6,368.2 503.0,378.3 504.4,374.6 505.8,376.8 507.1,382.2 508.5,370.3 509.9,383.1 511.3,379.5 512.6,371.2 514.0,382.6 515.4,372.7 516.8,368.5 518.2,378.1 519.5,383.7 520.9,373.5 522.3,380.8 523.7,374.6 525.0,377.6 526.4,362.7 527.8,372.6 529.2,369.8 530.5,355.3 531.9,364.2 533.3,362.1 534.7,370.6 536.0,364.4 537.4,380.0 538.8,372.3 540.2,373.6 541.5,360.8 542.9,371.1 544.3,369.4"/><path d="M325.5,323.4 326.9,316.2 328.3,319.0 329.6,309.5 331.0,303.5 332.4,314.0 333.8,300.1 335.1,312.3 336.5,319.2 337.9,318.2 339.3,301.0 340.6,314.1 342.0,312.2 343.4,324.7 344.8,322.7 346.1,339.1 347.5,329.5 348.9,352.9 350.3,346.6 351.6,345.7 353.0,351.7 354.4,355.4 355.8,348.6 357.2,347.9 358.5,327.8 359.9,348.2 361.3,331.4 362.7,333.5 364.0,324.3 365.4,321.6 366.8,318.6 368.2,312.8 369.5,306.3 370.9,305.9 372.3,318.7 373.7,317.6 375.0,309.4 376.4,307.9 377.8,316.8 379.2,311.2 380.5,310.4 381.9,321.1 383.3,316.9 384.7,330.8 386.0,324.7 387.4,312.4 388.8,328.5 390.2,331.5 391.6,324.5 392.9,338.9 394.3,338.0 395.7,344.6 397.1,330.6 398.4,344.6 399.8,346.9 401.2,344.3 402.6,329.0 403.9,341.9 405.3,345.5 406.7,333.1 408.1,334.6 409.4,336.3 410.8,328.2 412.2,336.5 413.6,341.3 414.9,344.8 416.3,346.9 417.7,356.7 419.1,336.0 420.5,337.1 421.8,327.8 423.2,339.8 424.6,344.0 426.0,326.0 427.3,318.0 428.7,335.0 430.1,319.9 431.5,320.0 432.8,331.2 434.2,313.7 435.6,318.8 437.0,313.5 438.3,332.0 439.7,319.0 441.1,301.3 442.5,318.9 443.8,315.0 445.2,315.8 446.6,313.1 448.0,298.4 449.3,305.8 450.7,302.5 452.1,312.4 453.5,304.8 454.9,293.9 456.2,313.1 457.6,301.0 459.0,306.9 460.4,306.7 461.7,323.1 463.1,310.2 464.5,309.1 465.9,305.3 467.2,302.3 468.6,312.7 470.0,312.9 471.4,310.2 472.7,319.9 474.1,321.9 475.5,323.9 476.9,313.9 478.2,315.8 479.6,319.8 481.0,319.2 482.4,336.0 483.8,320.6 485.1,329.8 486.5,325.9 487.9,334.2 489.3,348.8 490.6,348.9 492.0,357.8 493.4,360.9 494.8,373.9 496.1,363.8 497.5,370.3 498.9,365.6 500.3,364.3 501.6,377.4 503.0,380.4 504.4,376.7 505.8,378.9 507.1,379.0 508.5,377.3 509.9,380.5 511.3,388.8 512.6,382.2 514.0,385.3 515.4,384.4 516.8,381.0 518.2,373.6 519.5,373.6 520.9,368.1 522.3,378.9 523.7,372.1 525.0,365.6 526.4,376.2 527.8,361.3 529.2,376.0 530.5,382.3 531.9,372.6 533.3,374.8 534.7,378.5 536.0,371.0 537.4,380.4 538.8,380.2 540.2,377.2 541.5,381.2 542.9,383.2 544.3,371.7"/><path d="M325.5,309.8 326.9,303.9 328.3,301.4 329.6,303.7 331.0,301.7 332.4,283.1 333.8,286.3 335.1,291.2 336.5,296.5 337.9,303.6 339.3,304.8 340.6,307.6 342.0,304.0 343.4,317.6 344.8,304.7 346.1,312.6 347.5,314.3 348.9,331.8 350.3,333.5 351.6,327.6 353.0,325.0 354.4,341.8 355.8,315.1 357.2,328.4 358.5,324.2 359.9,311.0 361.3,301.5 362.7,300.2 364.0,309.0 365.4,306.5 366.8,297.4 368.2,276.4 369.5,298.1 370.9,276.9 372.3,273.7 373.7,278.0 375.0,276.3 376.4,283.0 377.8,292.8 379.2,279.3 380.5,285.3 381.9,294.9 383.3,298.5 384.7,293.3 386.0,308.6 387.4,303.3 388.8,295.4 390.2,296.8 391.6,309.0 392.9,309.7 394.3,303.5 395.7,306.5 397.1,305.6 398.4,302.9 399.8,313.2 401.2,317.1 402.6,302.3 403.9,298.9 405.3,310.2 406.7,319.9 408.1,309.9 409.4,322.0 410.8,305.1 412.2,312.3 413.6,311.9 414.9,316.1 416.3,305.2 417.7,309.5 419.1,305.2 420.5,310.6 421.8,311.1 423.2,310.2 424.6,311.9 426.0,313.7 427.3,314.1 428.7,299.8 430.1,314.0 431.5,306.9 432.8,310.1 434.2,305.7 435.6,296.8 437.0,286.8 438.3,297.3 439.7,301.4 441.1,290.6 442.5,290.3 443.8,284.9 445.2,289.9 446.6,286.8 448.0,290.6 449.3,292.9 450.7,289.0 452.1,280.5 453.5,288.4 454.9,292.0 456.2,289.2 457.6,286.4 459.0,291.7 460.4,292.8 461.7,278.0 463.1,288.9 464.5,284.5 465.9,293.9 467.2,301.7 468.6,306.1 470.0,304.6 471.4,301.3 472.7,310.4 474.1,301.9 475.5,333.7 476.9,336.6 478.2,331.8 479.6,338.3 481.0,338.9 482.4,344.1 483.8,336.9 485.1,335.4 486.5,332.1 487.9,341.2 489.3,337.2 490.6,344.0 492.0,355.6 493.4,370.1 494.8,358.3 496.1,368.0 497.5,356.7 498.9,360.1 500.3,373.2 501.6,367.2 503.0,359.3 504.4,366.0 505.8,363.4 507.1,355.6 508.5,363.4 509.9,364.1 511.3,354.0 512.6,361.4 514.0,366.9 515.4,355.7 516.8,355.1 518.2,363.6 519.5,348.4 520.9,357.3 522.3,363.6 523.7,359.4 525.0,364.8 526.4,354.7 527.8,362.0 529.2,370.0 530.5,368.8 531.9,355.6 533.3,366.6 534.7,373.1 536.0,374.1 537.4,382.4 538.8,363.1 540.2,359.4 541.5,374.6 542.9,366.0 544.3,371.9"/><path d="M325.5,316.9 326.9,308.4 328.3,307.6 329.6,308.1 331.0,304.1 332.4,299.0 333.8,295.4 335.1,290.2 336.5,289.4 337.9,286.0 339.3,293.9 340.6,293.6 342.0,295.8 343.4,286.1 344.8,295.1 346.1,305.1 347.5,311.8 348.9,314.3 350.3,317.4 351.6,319.9 353.0,314.1 354.4,306.5 355.8,307.3 357.2,297.5 358.5,288.5 359.9,299.4 361.3,290.9 362.7,293.0 364.0,282.9 365.4,290.1 366.8,283.7 368.2,287.6 369.5,294.6 370.9,283.7 372.3,284.8 373.7,284.5 375.0,296.4 376.4,287.6 377.8,288.2 379.2,289.3 380.5,299.8 381.9,297.3 383.3,300.1 384.7,293.8 386.0,296.4 387.4,303.0 388.8,300.5 390.2,298.5 391.6,312.0 392.9,304.4 394.3,315.8 395.7,314.4 397.1,314.8 398.4,309.3 399.8,317.5 401.2,300.4 402.6,306.1 403.9,300.1 405.3,314.1 406.7,304.7 408.1,321.1 409.4,318.6 410.8,301.0 412.2,326.5 413.6,298.7 414.9,310.3 416.3,317.6 417.7,307.9 419.1,306.3 420.5,296.1 421.8,306.6 423.2,313.4 424.6,300.7 426.0,309.6 427.3,316.8 428.7,313.9 430.1,320.5 431.5,298.7 432.8,306.5 434.2,298.5 435.6,300.3 437.0,300.0 438.3,289.4 439.7,292.9 441.1,291.1 442.5,295.4 443.8,286.2 445.2,286.9 446.6,287.6 448.0,299.0 449.3,299.8 450.7,289.2 452.1,287.0 453.5,283.9 454.9,290.6 456.2,277.9 457.6,283.2 459.0,283.3 460.4,289.0 461.7,278.0 463.1,277.1 464.5,294.5 465.9,291.1 467.2,298.8 468.6,292.9 470.0,283.5 471.4,300.7 472.7,294.4 474.1,296.3 475.5,301.0 476.9,305.3 478.2,305.4 479.6,307.8 481.0,309.1 482.4,303.4 483.8,309.9 485.1,316.4 486.5,321.0 487.9,309.2 489.3,330.8 490.6,330.3 492.0,344.0 493.4,339.8 494.8,340.5 496.1,340.5 497.5,366.2 498.9,352.2 500.3,346.4 501.6,354.2 503.0,343.1 504.4,349.6 505.8,347.4 507.1,332.7 508.5,340.3 509.9,352.5 511.3,341.2 512.6,343.4 514.0,351.6 515.4,348.3 516.8,347.2 518.2,366.3 519.5,356.4 520.9,357.0 522.3,351.4 523.7,365.1 525.0,357.1 526.4,371.2 527.8,376.4 529.2,369.1 530.5,368.5 531.9,379.4 533.3,377.0 534.7,365.8 536.0,377.5 537.4,378.5 538.8,385.0 540.2,373.0 541.5,381.6 542.9,382.1 544.3,381.5"/><path d="M325.5,308.1 326.9,293.7 328.3,298.8 329.6,299.8 331.0,291.8 332.4,286.7 333.8,286.2 335.1,280.2 336.5,276.2 337.9,279.5 339.3,278.8 340.6,281.1 342.0,286.7 343.4,303.4 344.8,299.1 346.1,308.8 347.5,316.7 348.9,311.8 350.3,321.3 351.6,317.7 353.0,310.0 354.4,314.7 355.8,305.8 357.2,295.6 358.5,297.6 359.9,285.3 361.3,299.7 362.7,276.1 364.0,289.2 365.4,292.7 366.8,272.1 368.2,291.4 369.5,290.2 370.9,280.9 372.3,287.9 373.7,290.1 375.0,283.8 376.4,293.6 377.8,288.0 379.2,285.1 380.5,288.2 381.9,295.8 383.3,293.3 384.7,299.0 386.0,299.0 387.4,306.8 388.8,310.3 390.2,292.4 391.6,298.8 392.9,305.0 394.3,305.1 395.7,306.8 397.1,310.3 398.4,302.8 399.8,306.3 401.2,307.6 402.6,297.3 403.9,289.4 405.3,304.3 406.7,306.2 408.1,295.8 409.4,304.0 410.8,313.7 412.2,309.4 413.6,298.6 414.9,308.6 416.3,308.0 417.7,292.0 419.1,289.0 420.5,293.0 421.8,283.0 423.2,297.3 424.6,301.9 426.0,301.8 427.3,299.8 428.7,297.1 430.1,293.7 431.5,301.5 432.8,294.7 434.2,288.6 435.6,288.9 437.0,295.0 438.3,277.7 439.7,280.9 441.1,284.5 442.5,284.8 443.8,280.0 445.2,292.9 446.6,306.8 448.0,296.7 449.3,291.1 450.7,297.0 452.1,302.9 453.5,293.5 454.9,298.4 456.2,297.5 457.6,300.0 459.0,297.4 460.4,288.6 461.7,300.7 463.1,284.9 464.5,306.3 465.9,285.0 467.2,290.9 468.6,291.0 470.0,299.8 471.4,309.3 472.7,306.0 474.1,308.1 475.5,309.9 476.9,309.8 478.2,323.6 479.6,328.7 481.0,328.8 482.4,324.9 483.8,325.0 485.1,321.8 486.5,339.2 487.9,339.9 489.3,341.4 490.6,347.6 492.0,354.1 493.4,358.2 494.8,356.2 496.1,362.4 497.5,347.5 498.9,363.9 500.3,377.3 501.6,370.8 503.0,363.5 504.4,357.1 505.8,366.6 507.1,363.1 508.5,357.8 509.9,352.9 511.3,355.4 512.6,353.1 514.0,360.3 515.4,361.5 516.8,371.5 518.2,352.4 519.5,360.6 520.9,374.1 522.3,361.6 523.7,365.7 525.0,356.8 526.4,358.3 527.8,364.3 529.2,371.8 530.5,356.8 531.9,360.4 533.3,367.0 534.7,365.6 536.0,363.5 537.4,372.8 538.8,376.1 540.2,370.4 541.5,366.0 542.9,372.5 544.3,367.6"/><path d="M325.5,313.6 326.9,307.3 328.3,306.5 329.6,306.5 331.0,296.4 332.4,298.8 333.8,286.1 335.1,289.3 336.5,301.8 337.9,285.9 339.3,294.4 340.6,288.0 342.0,290.6 343.4,291.1 344.8,296.4 346.1,316.4 347.5,327.1 348.9,319.6 350.3,315.6 351.6,316.6 353.0,316.9 354.4,314.1 355.8,304.4 357.2,307.9 358.5,307.3 359.9,289.9 361.3,291.1 362.7,296.2 364.0,300.0 365.4,307.0 366.8,302.4 368.2,300.0 369.5,301.9 370.9,306.6 372.3,305.9 373.7,302.3 375.0,307.2 376.4,312.0 377.8,312.3 379.2,315.0 380.5,319.8 381.9,306.4 383.3,327.3 384.7,319.4 386.0,322.1 387.4,309.7 388.8,308.7 390.2,313.0 391.6,326.3 392.9,325.4 394.3,308.8 395.7,312.0 397.1,310.0 398.4,316.6 399.8,313.9 401.2,302.3 402.6,309.2 403.9,313.0 405.3,313.0 406.7,299.3 408.1,322.3 409.4,308.5 410.8,299.5 412.2,318.5 413.6,307.8 414.9,303.7 416.3,308.6 417.7,311.3 419.1,310.8 420.5,310.2 421.8,311.7 423.2,307.1 424.6,317.1 426.0,310.0 427.3,314.9 428.7,312.8 430.1,316.3 431.5,322.7 432.8,309.2 434.2,292.9 435.6,300.4 437.0,279.4 438.3,284.6 439.7,289.6 441.1,285.9 442.5,288.6 443.8,280.6 445.2,285.6 446.6,292.2 448.0,290.5 449.3,291.0 450.7,282.6 452.1,283.1 453.5,277.7 454.9,290.3 456.2,278.7 457.6,283.9 459.0,273.3 460.4,287.3 461.7,279.5 463.1,285.8 464.5,285.9 465.9,291.9 467.2,278.1 468.6,297.8 470.0,292.1 471.4,286.2 472.7,282.9 474.1,297.6 475.5,302.3 476.9,306.2 478.2,301.4 479.6,312.7 481.0,301.0 482.4,312.0 483.8,309.4 485.1,309.8 486.5,330.7 487.9,339.7 489.3,335.0 490.6,342.7 492.0,349.1 493.4,360.3 494.8,349.8 496.1,351.8 497.5,360.7 498.9,353.3 500.3,352.2 501.6,363.2 503.0,349.9 504.4,354.5 505.8,354.9 507.1,351.5 508.5,352.3 509.9,350.6 511.3,347.7 512.6,348.8 514.0,352.9 515.4,363.3 516.8,353.6 518.2,358.0 519.5,359.8 520.9,357.2 522.3,352.4 523.7,356.0 525.0,364.5 526.4,347.0 527.8,368.2 529.2,367.3 530.5,359.5 531.9,359.0 533.3,371.4 534.7,374.8 536.0,373.5 537.4,364.9 538.8,364.5 540.2,376.3 541.5,374.6 542.9,369.4 544.3,373.9"/></g>
<rect x="317.4" y="247.4" width="234.7" height="158.1" fill="none" stroke="#555" stroke-width="1.15"/>
<path d="M325.5,405.5V410.3M369.3,405.5V410.3M413.0,405.5V410.3M456.8,405.5V410.3M500.5,405.5V410.3M544.3,405.5V410.3M317.4,249.0H312.8M317.4,270.5H312.8M317.4,292.0H312.8M317.4,313.5H312.8M317.4,335.0H312.8M317.4,356.5H312.8M317.4,378.0H312.8M317.4,399.5H312.8" stroke="#555" stroke-width="1" fill="none"/>
<text x="325.5" y="422.4" text-anchor="middle" class="tl">0.0</text>
<text x="369.3" y="422.4" text-anchor="middle" class="tl">0.2</text>
<text x="413.0" y="422.4" text-anchor="middle" class="tl">0.4</text>
<text x="456.8" y="422.4" text-anchor="middle" class="tl">0.6</text>
<text x="500.5" y="422.4" text-anchor="middle" class="tl">0.8</text>
<text x="544.3" y="422.4" text-anchor="middle" class="tl">1.0</text>
<text transform="translate(308.0,249.0) rotate(-90)" text-anchor="middle" class="tl">50</text>
<text transform="translate(308.0,270.5) rotate(-90)" text-anchor="middle" class="tl">40</text>
<text transform="translate(308.0,292.0) rotate(-90)" text-anchor="middle" class="tl">30</text>
<text transform="translate(308.0,313.5) rotate(-90)" text-anchor="middle" class="tl">20</text>
<text transform="translate(308.0,335.0) rotate(-90)" text-anchor="middle" class="tl">10</text>
<text transform="translate(308.0,356.5) rotate(-90)" text-anchor="middle" class="tl">0</text>
<text transform="translate(308.0,399.5) rotate(-90)" text-anchor="middle" class="tl">&#8722;20</text>
<text x="80.6" y="14.6" class="tp">(a)</text>
<text x="104.4" y="14.6" class="tt">without orthosis</text>
<text x="387.2" y="14.6" class="tp">(b)</text>
<text x="411.8" y="14.6" class="tt">with orthosis</text>
<text x="90.0" y="237.6" class="tp">(c)</text>
<text x="113.6" y="237.6" class="tt">with spring 1</text>
<text x="387.6" y="237.6" class="tp">(d)</text>
<text x="414.3" y="237.6" class="tt">with spring 2</text>
<text transform="translate(289.9,323.6) rotate(-90)" text-anchor="middle" class="al">Moment</text>
<text x="436.7" y="440.5" text-anchor="middle" class="al">Time</text>
</svg></body></html>
